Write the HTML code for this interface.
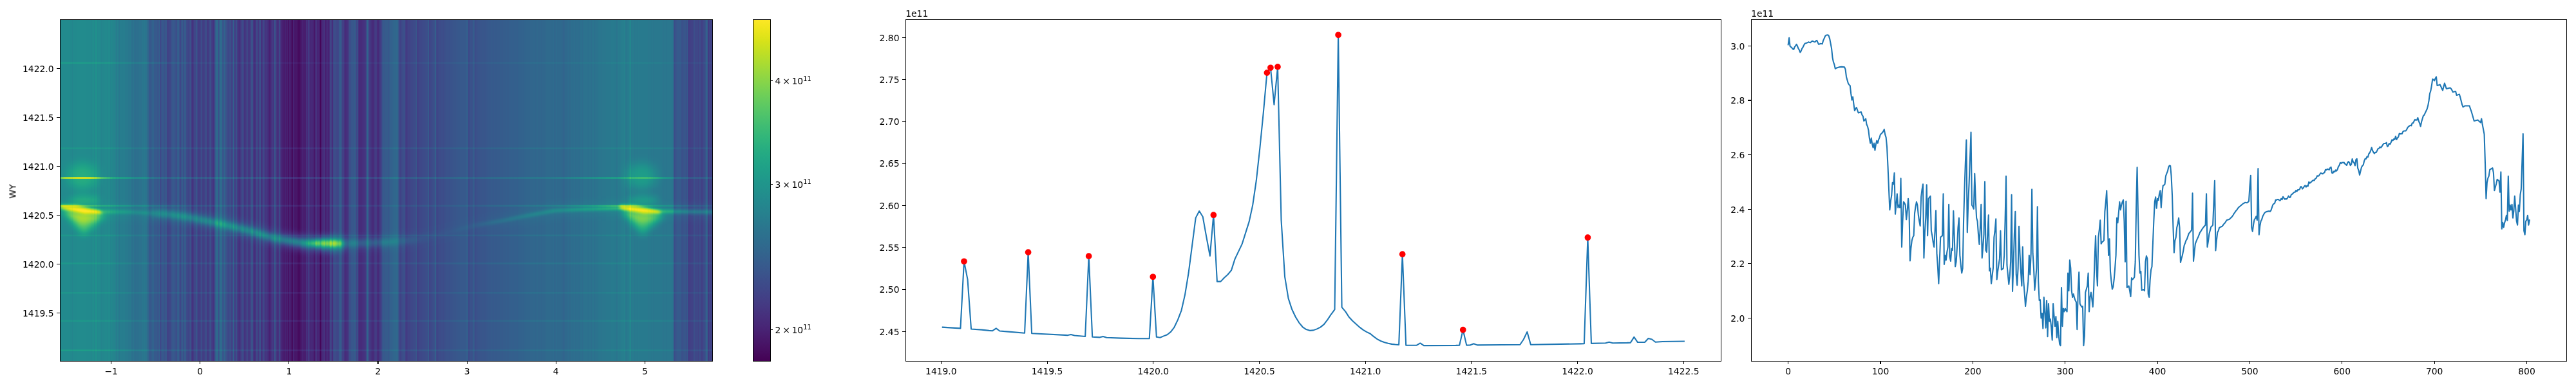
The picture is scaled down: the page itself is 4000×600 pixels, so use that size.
<!DOCTYPE html>
<html lang="en"><head><meta charset="utf-8"><title>figure</title>
<style>html,body{margin:0;padding:0;background:#fff;}g[id^="patch_"] path,g[id^="xtick_"] use,g[id^="ytick_"] use{shape-rendering:crispEdges;}body{width:4000px;height:600px;overflow:hidden;}svg{display:block;}</style>
</head><body>
<svg width="4000" height="600" viewBox="0 0 2880 432">
 <defs>
  <style type="text/css">*{stroke-linejoin: round; stroke-linecap: butt}</style>
 </defs>
 <g id="figure_1">
  <g id="patch_1">
   <path d="M 0 432 
L 2880 432 
L 2880 0 
L 0 0 
z
" style="fill: #ffffff"/>
  </g>
  <g id="axes_1">
   <g id="HMBG">
    <path d="M 67.16 404.12 
L 796.497225 404.12 
L 796.497225 21.72 
L 67.16 21.72 
z
" style="fill: #ffffff"/>
   </g>
<g transform="scale(0.72)"><defs>
<filter id="vir" x="0" y="0" width="100%" height="100%" color-interpolation-filters="sRGB"><feComponentTransfer><feFuncR type="table" tableValues="0.2670 0.2726 0.2770 0.2803 0.2823 0.2832 0.2829 0.2814 0.2788 0.2752 0.2706 0.2651 0.2590 0.2522 0.2450 0.2374 0.2278 0.2201 0.2124 0.2049 0.1976 0.1906 0.1839 0.1774 0.1712 0.1651 0.1592 0.1534 0.1476 0.1419 0.1364 0.1312 0.1254 0.1218 0.1197 0.1197 0.1223 0.1281 0.1373 0.1501 0.1664 0.1858 0.2080 0.2328 0.2599 0.2889 0.3198 0.3524 0.3952 0.4310 0.4681 0.5063 0.5455 0.5857 0.6266 0.6681 0.7099 0.7519 0.7938 0.8353 0.8762 0.9162 0.9553 0.9932"/><feFuncG type="table" tableValues="0.0049 0.0256 0.0503 0.0734 0.0950 0.1157 0.1359 0.1558 0.1755 0.1949 0.2141 0.2330 0.2515 0.2698 0.2877 0.3052 0.3266 0.3433 0.3597 0.3757 0.3915 0.4071 0.4224 0.4375 0.4525 0.4674 0.4822 0.4970 0.5117 0.5265 0.5412 0.5559 0.5743 0.5891 0.6038 0.6185 0.6332 0.6477 0.6623 0.6766 0.6909 0.7049 0.7187 0.7322 0.7455 0.7584 0.7709 0.7830 0.7975 0.8085 0.8189 0.8288 0.8380 0.8467 0.8546 0.8620 0.8688 0.8750 0.8807 0.8860 0.8911 0.8961 0.9011 0.9062"/><feFuncB type="table" tableValues="0.3294 0.3531 0.3757 0.3972 0.4173 0.4361 0.4534 0.4692 0.4834 0.4960 0.5071 0.5166 0.5247 0.5316 0.5373 0.5419 0.5465 0.5494 0.5517 0.5535 0.5550 0.5561 0.5569 0.5576 0.5580 0.5581 0.5581 0.5577 0.5570 0.5560 0.5545 0.5525 0.5491 0.5456 0.5414 0.5363 0.5304 0.5235 0.5156 0.5066 0.4965 0.4853 0.4729 0.4593 0.4445 0.4284 0.4112 0.3926 0.3678 0.3465 0.3240 0.3004 0.2756 0.2499 0.2234 0.1963 0.1693 0.1432 0.1200 0.1026 0.0953 0.1007 0.1181 0.1439"/></feComponentTransfer></filter>
<clipPath id="hmclip"><rect x="93.278" y="30.167" width="1012.968" height="531.111"/></clipPath>
<filter id="bl2" x="-20%" y="-100%" width="140%" height="300%"><feGaussianBlur stdDeviation="2.0"/></filter>
<filter id="bl3" x="-5%" y="-50%" width="110%" height="200%"><feGaussianBlur stdDeviation="3"/></filter>
<filter id="bl5" x="-50%" y="-50%" width="200%" height="200%"><feGaussianBlur stdDeviation="5.5"/></filter>
<filter id="bl8" x="-50%" y="-50%" width="200%" height="200%"><feGaussianBlur stdDeviation="8"/></filter>
<linearGradient id="rg" gradientUnits="userSpaceOnUse" x1="93.3" y1="0" x2="1106.2" y2="0"><stop offset="-0.0003" stop-color="#fff" stop-opacity="0.000"/><stop offset="0.1330" stop-color="#fff" stop-opacity="0.000"/><stop offset="0.1498" stop-color="#fff" stop-opacity="0.180"/><stop offset="0.2041" stop-color="#fff" stop-opacity="0.220"/><stop offset="0.3324" stop-color="#fff" stop-opacity="0.280"/><stop offset="0.3689" stop-color="#fff" stop-opacity="0.330"/><stop offset="0.3837" stop-color="#fff" stop-opacity="0.450"/><stop offset="0.3916" stop-color="#fff" stop-opacity="0.580"/><stop offset="0.4163" stop-color="#fff" stop-opacity="0.580"/><stop offset="0.4242" stop-color="#fff" stop-opacity="0.450"/><stop offset="0.4321" stop-color="#fff" stop-opacity="0.360"/><stop offset="0.4361" stop-color="#fff" stop-opacity="0.130"/><stop offset="0.5002" stop-color="#fff" stop-opacity="0.120"/><stop offset="0.5249" stop-color="#fff" stop-opacity="0.080"/><stop offset="0.5595" stop-color="#fff" stop-opacity="0.020"/><stop offset="0.5990" stop-color="#fff" stop-opacity="0.000"/><stop offset="0.9998" stop-color="#fff" stop-opacity="0.000"/></linearGradient>
<linearGradient id="rn" gradientUnits="userSpaceOnUse" x1="93.3" y1="0" x2="1106.2" y2="0"><stop offset="-0.0003" stop-color="#fff" stop-opacity="0.140"/><stop offset="0.0560" stop-color="#fff" stop-opacity="0.160"/><stop offset="0.0708" stop-color="#fff" stop-opacity="0.180"/><stop offset="0.1054" stop-color="#fff" stop-opacity="0.140"/><stop offset="0.1330" stop-color="#fff" stop-opacity="0.120"/><stop offset="0.1498" stop-color="#fff" stop-opacity="0.000"/><stop offset="0.5595" stop-color="#fff" stop-opacity="0.000"/><stop offset="0.5990" stop-color="#fff" stop-opacity="0.020"/><stop offset="0.6286" stop-color="#fff" stop-opacity="0.040"/><stop offset="0.6582" stop-color="#fff" stop-opacity="0.080"/><stop offset="0.7174" stop-color="#fff" stop-opacity="0.130"/><stop offset="0.7569" stop-color="#fff" stop-opacity="0.170"/><stop offset="0.8161" stop-color="#fff" stop-opacity="0.240"/><stop offset="0.8556" stop-color="#fff" stop-opacity="0.300"/><stop offset="0.9247" stop-color="#fff" stop-opacity="0.300"/><stop offset="0.9543" stop-color="#fff" stop-opacity="0.240"/><stop offset="0.9998" stop-color="#fff" stop-opacity="0.220"/></linearGradient>
<linearGradient id="rw" gradientUnits="userSpaceOnUse" x1="93.3" y1="0" x2="1106.2" y2="0"><stop offset="-0.0003" stop-color="#fff" stop-opacity="0.030"/><stop offset="0.1330" stop-color="#fff" stop-opacity="0.030"/><stop offset="0.1498" stop-color="#fff" stop-opacity="0.080"/><stop offset="0.3324" stop-color="#fff" stop-opacity="0.100"/><stop offset="0.3778" stop-color="#fff" stop-opacity="0.200"/><stop offset="0.4311" stop-color="#fff" stop-opacity="0.200"/><stop offset="0.4371" stop-color="#fff" stop-opacity="0.070"/><stop offset="0.5002" stop-color="#fff" stop-opacity="0.050"/><stop offset="0.5545" stop-color="#fff" stop-opacity="0.010"/><stop offset="0.6286" stop-color="#fff" stop-opacity="0.010"/><stop offset="0.7569" stop-color="#fff" stop-opacity="0.030"/><stop offset="0.9998" stop-color="#fff" stop-opacity="0.040"/></linearGradient>
<linearGradient id="lg0" gradientUnits="userSpaceOnUse" x1="93.3" y1="0" x2="1106.2" y2="0"><stop offset="-0.0003" stop-color="#fff" stop-opacity="0.070"/><stop offset="0.1547" stop-color="#fff" stop-opacity="0.060"/><stop offset="0.2041" stop-color="#fff" stop-opacity="0.030"/><stop offset="0.9998" stop-color="#fff" stop-opacity="0.025"/></linearGradient>
<linearGradient id="lg1" gradientUnits="userSpaceOnUse" x1="93.3" y1="0" x2="1106.2" y2="0"><stop offset="-0.0003" stop-color="#fff" stop-opacity="0.050"/><stop offset="0.1547" stop-color="#fff" stop-opacity="0.050"/><stop offset="0.9998" stop-color="#fff" stop-opacity="0.040"/></linearGradient>
<linearGradient id="lg2" gradientUnits="userSpaceOnUse" x1="93.3" y1="0" x2="1106.2" y2="0"><stop offset="-0.0003" stop-color="#fff" stop-opacity="0.300"/><stop offset="0.0066" stop-color="#fff" stop-opacity="0.420"/><stop offset="0.0461" stop-color="#fff" stop-opacity="0.420"/><stop offset="0.0807" stop-color="#fff" stop-opacity="0.180"/><stop offset="0.1547" stop-color="#fff" stop-opacity="0.100"/><stop offset="0.7470" stop-color="#fff" stop-opacity="0.080"/><stop offset="0.8211" stop-color="#fff" stop-opacity="0.160"/><stop offset="0.9149" stop-color="#fff" stop-opacity="0.200"/><stop offset="0.9445" stop-color="#fff" stop-opacity="0.100"/><stop offset="0.9998" stop-color="#fff" stop-opacity="0.080"/></linearGradient>
<linearGradient id="lg3" gradientUnits="userSpaceOnUse" x1="93.3" y1="0" x2="1106.2" y2="0"><stop offset="-0.0003" stop-color="#fff" stop-opacity="0.200"/><stop offset="0.0708" stop-color="#fff" stop-opacity="0.120"/><stop offset="0.2041" stop-color="#fff" stop-opacity="0.060"/><stop offset="0.5990" stop-color="#fff" stop-opacity="0.040"/><stop offset="0.7569" stop-color="#fff" stop-opacity="0.080"/><stop offset="0.8556" stop-color="#fff" stop-opacity="0.200"/><stop offset="0.9247" stop-color="#fff" stop-opacity="0.100"/><stop offset="0.9998" stop-color="#fff" stop-opacity="0.050"/></linearGradient>
<linearGradient id="lg4" gradientUnits="userSpaceOnUse" x1="93.3" y1="0" x2="1106.2" y2="0"><stop offset="-0.0003" stop-color="#fff" stop-opacity="0.050"/><stop offset="0.9998" stop-color="#fff" stop-opacity="0.040"/></linearGradient>
<linearGradient id="lg5" gradientUnits="userSpaceOnUse" x1="93.3" y1="0" x2="1106.2" y2="0"><stop offset="-0.0003" stop-color="#fff" stop-opacity="0.050"/><stop offset="0.9998" stop-color="#fff" stop-opacity="0.040"/></linearGradient>
<linearGradient id="lg6" gradientUnits="userSpaceOnUse" x1="93.3" y1="0" x2="1106.2" y2="0"><stop offset="-0.0003" stop-color="#fff" stop-opacity="0.045"/><stop offset="0.9998" stop-color="#fff" stop-opacity="0.035"/></linearGradient>
<linearGradient id="lg7" gradientUnits="userSpaceOnUse" x1="93.3" y1="0" x2="1106.2" y2="0"><stop offset="-0.0003" stop-color="#fff" stop-opacity="0.050"/><stop offset="0.9998" stop-color="#fff" stop-opacity="0.040"/></linearGradient>
<linearGradient id="lg8" gradientUnits="userSpaceOnUse" x1="93.3" y1="0" x2="1106.2" y2="0"><stop offset="-0.0003" stop-color="#fff" stop-opacity="0.080"/><stop offset="0.1054" stop-color="#fff" stop-opacity="0.070"/><stop offset="0.2041" stop-color="#fff" stop-opacity="0.050"/><stop offset="0.9998" stop-color="#fff" stop-opacity="0.040"/></linearGradient>
</defs>
<g clip-path="url(#hmclip)"><g filter="url(#vir)">
<rect x="93.28" y="30.17" width="1012.97" height="531.11" fill="#484848"/>
<rect x="93.28" y="30.17" width="1.56" height="531.11" fill="#7a7a7a"/>
<rect x="94.54" y="30.17" width="1.56" height="531.11" fill="#7b7b7b"/>
<rect x="95.80" y="30.17" width="14.18" height="531.11" fill="#7a7a7a"/>
<rect x="109.68" y="30.17" width="2.82" height="531.11" fill="#797979"/>
<rect x="112.20" y="30.17" width="7.87" height="531.11" fill="#7a7a7a"/>
<rect x="119.77" y="30.17" width="15.44" height="531.11" fill="#7b7b7b"/>
<rect x="134.91" y="30.17" width="6.61" height="531.11" fill="#7a7a7a"/>
<rect x="141.21" y="30.17" width="4.08" height="531.11" fill="#7b7b7b"/>
<rect x="145.00" y="30.17" width="1.56" height="531.11" fill="#7e7e7e"/>
<rect x="146.26" y="30.17" width="1.56" height="531.11" fill="#7f7f7f"/>
<rect x="147.52" y="30.17" width="2.82" height="531.11" fill="#808080"/>
<rect x="150.04" y="30.17" width="1.56" height="531.11" fill="#7f7f7f"/>
<rect x="151.31" y="30.17" width="1.56" height="531.11" fill="#7e7e7e"/>
<rect x="152.57" y="30.17" width="1.56" height="531.11" fill="#7d7d7d"/>
<rect x="153.83" y="30.17" width="1.56" height="531.11" fill="#7a7a7a"/>
<rect x="155.09" y="30.17" width="2.82" height="531.11" fill="#797979"/>
<rect x="157.61" y="30.17" width="1.56" height="531.11" fill="#777777"/>
<rect x="158.87" y="30.17" width="2.82" height="531.11" fill="#787878"/>
<rect x="161.40" y="30.17" width="5.35" height="531.11" fill="#797979"/>
<rect x="166.44" y="30.17" width="5.35" height="531.11" fill="#7a7a7a"/>
<rect x="171.49" y="30.17" width="1.56" height="531.11" fill="#797979"/>
<rect x="172.75" y="30.17" width="1.56" height="531.11" fill="#777777"/>
<rect x="174.01" y="30.17" width="1.56" height="531.11" fill="#767676"/>
<rect x="175.27" y="30.17" width="2.82" height="531.11" fill="#757575"/>
<rect x="177.80" y="30.17" width="1.56" height="531.11" fill="#747474"/>
<rect x="179.06" y="30.17" width="1.56" height="531.11" fill="#727272"/>
<rect x="180.32" y="30.17" width="1.56" height="531.11" fill="#6f6f6f"/>
<rect x="181.58" y="30.17" width="1.56" height="531.11" fill="#717171"/>
<rect x="182.84" y="30.17" width="1.56" height="531.11" fill="#6e6e6e"/>
<rect x="184.10" y="30.17" width="1.56" height="531.11" fill="#6c6c6c"/>
<rect x="185.37" y="30.17" width="1.56" height="531.11" fill="#6d6d6d"/>
<rect x="186.63" y="30.17" width="1.56" height="531.11" fill="#6e6e6e"/>
<rect x="187.89" y="30.17" width="1.56" height="531.11" fill="#6d6d6d"/>
<rect x="189.15" y="30.17" width="5.35" height="531.11" fill="#6c6c6c"/>
<rect x="194.20" y="30.17" width="2.82" height="531.11" fill="#6b6b6b"/>
<rect x="196.72" y="30.17" width="2.82" height="531.11" fill="#696969"/>
<rect x="199.24" y="30.17" width="1.56" height="531.11" fill="#6a6a6a"/>
<rect x="200.50" y="30.17" width="2.82" height="531.11" fill="#676767"/>
<rect x="203.03" y="30.17" width="1.56" height="531.11" fill="#656565"/>
<rect x="204.29" y="30.17" width="1.56" height="531.11" fill="#626262"/>
<rect x="205.55" y="30.17" width="1.56" height="531.11" fill="#606060"/>
<rect x="206.81" y="30.17" width="1.56" height="531.11" fill="#626262"/>
<rect x="208.07" y="30.17" width="1.56" height="531.11" fill="#606060"/>
<rect x="209.33" y="30.17" width="1.56" height="531.11" fill="#5e5e5e"/>
<rect x="210.60" y="30.17" width="1.56" height="531.11" fill="#606060"/>
<rect x="211.86" y="30.17" width="1.56" height="531.11" fill="#5d5d5d"/>
<rect x="213.12" y="30.17" width="1.56" height="531.11" fill="#606060"/>
<rect x="214.38" y="30.17" width="1.56" height="531.11" fill="#616161"/>
<rect x="215.64" y="30.17" width="1.56" height="531.11" fill="#606060"/>
<rect x="216.90" y="30.17" width="1.56" height="531.11" fill="#616161"/>
<rect x="218.16" y="30.17" width="1.56" height="531.11" fill="#626262"/>
<rect x="219.43" y="30.17" width="4.08" height="531.11" fill="#646464"/>
<rect x="223.21" y="30.17" width="2.82" height="531.11" fill="#656565"/>
<rect x="225.73" y="30.17" width="1.56" height="531.11" fill="#636363"/>
<rect x="226.99" y="30.17" width="1.56" height="531.11" fill="#626262"/>
<rect x="228.26" y="30.17" width="1.56" height="531.11" fill="#5e5e5e"/>
<rect x="229.52" y="30.17" width="1.56" height="531.11" fill="#575757"/>
<rect x="230.78" y="30.17" width="1.56" height="531.11" fill="#4d4d4d"/>
<rect x="232.04" y="30.17" width="1.56" height="531.11" fill="#444444"/>
<rect x="233.30" y="30.17" width="1.56" height="531.11" fill="#484848"/>
<rect x="234.56" y="30.17" width="1.56" height="531.11" fill="#4a4a4a"/>
<rect x="235.83" y="30.17" width="1.56" height="531.11" fill="#505050"/>
<rect x="237.09" y="30.17" width="1.56" height="531.11" fill="#4f4f4f"/>
<rect x="238.35" y="30.17" width="1.56" height="531.11" fill="#545454"/>
<rect x="239.61" y="30.17" width="1.56" height="531.11" fill="#424242"/>
<rect x="240.87" y="30.17" width="1.56" height="531.11" fill="#474747"/>
<rect x="242.13" y="30.17" width="1.56" height="531.11" fill="#4b4b4b"/>
<rect x="243.39" y="30.17" width="1.56" height="531.11" fill="#454545"/>
<rect x="244.66" y="30.17" width="1.56" height="531.11" fill="#464646"/>
<rect x="245.92" y="30.17" width="1.56" height="531.11" fill="#454545"/>
<rect x="247.18" y="30.17" width="1.56" height="531.11" fill="#525252"/>
<rect x="248.44" y="30.17" width="1.56" height="531.11" fill="#333333"/>
<rect x="249.70" y="30.17" width="1.56" height="531.11" fill="#3f3f3f"/>
<rect x="250.96" y="30.17" width="1.56" height="531.11" fill="#484848"/>
<rect x="252.22" y="30.17" width="1.56" height="531.11" fill="#474747"/>
<rect x="253.49" y="30.17" width="1.56" height="531.11" fill="#464646"/>
<rect x="254.75" y="30.17" width="1.56" height="531.11" fill="#404040"/>
<rect x="256.01" y="30.17" width="1.56" height="531.11" fill="#444444"/>
<rect x="257.27" y="30.17" width="1.56" height="531.11" fill="#494949"/>
<rect x="258.53" y="30.17" width="1.56" height="531.11" fill="#434343"/>
<rect x="259.79" y="30.17" width="1.56" height="531.11" fill="#2d2d2d"/>
<rect x="261.05" y="30.17" width="1.56" height="531.11" fill="#333333"/>
<rect x="262.32" y="30.17" width="1.56" height="531.11" fill="#363636"/>
<rect x="263.58" y="30.17" width="1.56" height="531.11" fill="#383838"/>
<rect x="264.84" y="30.17" width="1.56" height="531.11" fill="#393939"/>
<rect x="266.10" y="30.17" width="1.56" height="531.11" fill="#434343"/>
<rect x="267.36" y="30.17" width="1.56" height="531.11" fill="#464646"/>
<rect x="268.62" y="30.17" width="1.56" height="531.11" fill="#484848"/>
<rect x="269.88" y="30.17" width="1.56" height="531.11" fill="#464646"/>
<rect x="271.15" y="30.17" width="1.56" height="531.11" fill="#424242"/>
<rect x="272.41" y="30.17" width="1.56" height="531.11" fill="#3f3f3f"/>
<rect x="273.67" y="30.17" width="1.56" height="531.11" fill="#3d3d3d"/>
<rect x="274.93" y="30.17" width="1.56" height="531.11" fill="#4a4a4a"/>
<rect x="276.19" y="30.17" width="1.56" height="531.11" fill="#4d4d4d"/>
<rect x="277.45" y="30.17" width="1.56" height="531.11" fill="#4f4f4f"/>
<rect x="278.72" y="30.17" width="1.56" height="531.11" fill="#2e2e2e"/>
<rect x="279.98" y="30.17" width="1.56" height="531.11" fill="#3a3a3a"/>
<rect x="281.24" y="30.17" width="1.56" height="531.11" fill="#414141"/>
<rect x="282.50" y="30.17" width="1.56" height="531.11" fill="#4f4f4f"/>
<rect x="283.76" y="30.17" width="1.56" height="531.11" fill="#393939"/>
<rect x="285.02" y="30.17" width="1.56" height="531.11" fill="#494949"/>
<rect x="286.28" y="30.17" width="2.82" height="531.11" fill="#4a4a4a"/>
<rect x="288.81" y="30.17" width="1.56" height="531.11" fill="#3b3b3b"/>
<rect x="290.07" y="30.17" width="1.56" height="531.11" fill="#393939"/>
<rect x="291.33" y="30.17" width="1.56" height="531.11" fill="#363636"/>
<rect x="292.59" y="30.17" width="1.56" height="531.11" fill="#333333"/>
<rect x="293.85" y="30.17" width="1.56" height="531.11" fill="#3b3b3b"/>
<rect x="295.11" y="30.17" width="1.56" height="531.11" fill="#444444"/>
<rect x="296.38" y="30.17" width="1.56" height="531.11" fill="#303030"/>
<rect x="297.64" y="30.17" width="1.56" height="531.11" fill="#2a2a2a"/>
<rect x="298.90" y="30.17" width="1.56" height="531.11" fill="#222222"/>
<rect x="300.16" y="30.17" width="1.56" height="531.11" fill="#2d2d2d"/>
<rect x="301.42" y="30.17" width="2.82" height="531.11" fill="#383838"/>
<rect x="303.94" y="30.17" width="1.56" height="531.11" fill="#393939"/>
<rect x="305.21" y="30.17" width="1.56" height="531.11" fill="#4b4b4b"/>
<rect x="306.47" y="30.17" width="1.56" height="531.11" fill="#2b2b2b"/>
<rect x="307.73" y="30.17" width="1.56" height="531.11" fill="#2f2f2f"/>
<rect x="308.99" y="30.17" width="1.56" height="531.11" fill="#2d2d2d"/>
<rect x="310.25" y="30.17" width="1.56" height="531.11" fill="#313131"/>
<rect x="311.51" y="30.17" width="1.56" height="531.11" fill="#333333"/>
<rect x="312.78" y="30.17" width="1.56" height="531.11" fill="#474747"/>
<rect x="314.04" y="30.17" width="1.56" height="531.11" fill="#2f2f2f"/>
<rect x="315.30" y="30.17" width="1.56" height="531.11" fill="#2d2d2d"/>
<rect x="316.56" y="30.17" width="1.56" height="531.11" fill="#333333"/>
<rect x="317.82" y="30.17" width="1.56" height="531.11" fill="#323232"/>
<rect x="319.08" y="30.17" width="1.56" height="531.11" fill="#444444"/>
<rect x="320.34" y="30.17" width="1.56" height="531.11" fill="#383838"/>
<rect x="321.61" y="30.17" width="1.56" height="531.11" fill="#2a2a2a"/>
<rect x="322.87" y="30.17" width="1.56" height="531.11" fill="#2c2c2c"/>
<rect x="324.13" y="30.17" width="1.56" height="531.11" fill="#333333"/>
<rect x="325.39" y="30.17" width="1.56" height="531.11" fill="#3c3c3c"/>
<rect x="326.65" y="30.17" width="1.56" height="531.11" fill="#414141"/>
<rect x="327.91" y="30.17" width="1.56" height="531.11" fill="#2f2f2f"/>
<rect x="329.17" y="30.17" width="1.56" height="531.11" fill="#2b2b2b"/>
<rect x="330.44" y="30.17" width="1.56" height="531.11" fill="#272727"/>
<rect x="331.70" y="30.17" width="1.56" height="531.11" fill="#292929"/>
<rect x="332.96" y="30.17" width="1.56" height="531.11" fill="#3f3f3f"/>
<rect x="334.22" y="30.17" width="1.56" height="531.11" fill="#4d4d4d"/>
<rect x="335.48" y="30.17" width="1.56" height="531.11" fill="#585858"/>
<rect x="336.74" y="30.17" width="1.56" height="531.11" fill="#616161"/>
<rect x="338.00" y="30.17" width="1.56" height="531.11" fill="#3a3a3a"/>
<rect x="339.27" y="30.17" width="1.56" height="531.11" fill="#474747"/>
<rect x="340.53" y="30.17" width="1.56" height="531.11" fill="#505050"/>
<rect x="341.79" y="30.17" width="1.56" height="531.11" fill="#5b5b5b"/>
<rect x="343.05" y="30.17" width="1.56" height="531.11" fill="#646464"/>
<rect x="344.31" y="30.17" width="2.82" height="531.11" fill="#464646"/>
<rect x="346.84" y="30.17" width="1.56" height="531.11" fill="#454545"/>
<rect x="348.10" y="30.17" width="1.56" height="531.11" fill="#545454"/>
<rect x="349.36" y="30.17" width="1.56" height="531.11" fill="#494949"/>
<rect x="350.62" y="30.17" width="1.56" height="531.11" fill="#414141"/>
<rect x="351.88" y="30.17" width="1.56" height="531.11" fill="#3f3f3f"/>
<rect x="353.14" y="30.17" width="1.56" height="531.11" fill="#393939"/>
<rect x="354.40" y="30.17" width="1.56" height="531.11" fill="#353535"/>
<rect x="355.67" y="30.17" width="1.56" height="531.11" fill="#3c3c3c"/>
<rect x="356.93" y="30.17" width="1.56" height="531.11" fill="#474747"/>
<rect x="358.19" y="30.17" width="1.56" height="531.11" fill="#2e2e2e"/>
<rect x="359.45" y="30.17" width="1.56" height="531.11" fill="#333333"/>
<rect x="360.71" y="30.17" width="1.56" height="531.11" fill="#393939"/>
<rect x="361.97" y="30.17" width="1.56" height="531.11" fill="#505050"/>
<rect x="363.23" y="30.17" width="1.56" height="531.11" fill="#323232"/>
<rect x="364.50" y="30.17" width="1.56" height="531.11" fill="#313131"/>
<rect x="365.76" y="30.17" width="1.56" height="531.11" fill="#393939"/>
<rect x="367.02" y="30.17" width="1.56" height="531.11" fill="#424242"/>
<rect x="368.28" y="30.17" width="1.56" height="531.11" fill="#282828"/>
<rect x="369.54" y="30.17" width="1.56" height="531.11" fill="#292929"/>
<rect x="370.80" y="30.17" width="1.56" height="531.11" fill="#222222"/>
<rect x="372.06" y="30.17" width="1.56" height="531.11" fill="#262626"/>
<rect x="373.33" y="30.17" width="1.56" height="531.11" fill="#292929"/>
<rect x="374.59" y="30.17" width="1.56" height="531.11" fill="#383838"/>
<rect x="375.85" y="30.17" width="1.56" height="531.11" fill="#3b3b3b"/>
<rect x="377.11" y="30.17" width="1.56" height="531.11" fill="#404040"/>
<rect x="378.37" y="30.17" width="1.56" height="531.11" fill="#242424"/>
<rect x="379.63" y="30.17" width="1.56" height="531.11" fill="#282828"/>
<rect x="380.90" y="30.17" width="1.56" height="531.11" fill="#2b2b2b"/>
<rect x="382.16" y="30.17" width="1.56" height="531.11" fill="#2e2e2e"/>
<rect x="383.42" y="30.17" width="1.56" height="531.11" fill="#3b3b3b"/>
<rect x="384.68" y="30.17" width="4.08" height="531.11" fill="#292929"/>
<rect x="388.46" y="30.17" width="1.56" height="531.11" fill="#2f2f2f"/>
<rect x="389.73" y="30.17" width="1.56" height="531.11" fill="#3f3f3f"/>
<rect x="390.99" y="30.17" width="1.56" height="531.11" fill="#535353"/>
<rect x="392.25" y="30.17" width="1.56" height="531.11" fill="#2b2b2b"/>
<rect x="393.51" y="30.17" width="1.56" height="531.11" fill="#262626"/>
<rect x="394.77" y="30.17" width="1.56" height="531.11" fill="#212121"/>
<rect x="396.03" y="30.17" width="1.56" height="531.11" fill="#262626"/>
<rect x="397.29" y="30.17" width="1.56" height="531.11" fill="#2c2c2c"/>
<rect x="398.56" y="30.17" width="1.56" height="531.11" fill="#4b4b4b"/>
<rect x="399.82" y="30.17" width="1.56" height="531.11" fill="#1e1e1e"/>
<rect x="401.08" y="30.17" width="1.56" height="531.11" fill="#2b2b2b"/>
<rect x="402.34" y="30.17" width="1.56" height="531.11" fill="#393939"/>
<rect x="403.60" y="30.17" width="1.56" height="531.11" fill="#434343"/>
<rect x="404.86" y="30.17" width="1.56" height="531.11" fill="#262626"/>
<rect x="406.12" y="30.17" width="1.56" height="531.11" fill="#212121"/>
<rect x="407.39" y="30.17" width="1.56" height="531.11" fill="#292929"/>
<rect x="408.65" y="30.17" width="1.56" height="531.11" fill="#3d3d3d"/>
<rect x="409.91" y="30.17" width="1.56" height="531.11" fill="#303030"/>
<rect x="411.17" y="30.17" width="1.56" height="531.11" fill="#282828"/>
<rect x="412.43" y="30.17" width="1.56" height="531.11" fill="#212121"/>
<rect x="413.69" y="30.17" width="1.56" height="531.11" fill="#333333"/>
<rect x="414.96" y="30.17" width="1.56" height="531.11" fill="#232323"/>
<rect x="416.22" y="30.17" width="1.56" height="531.11" fill="#1d1d1d"/>
<rect x="417.48" y="30.17" width="1.56" height="531.11" fill="#161616"/>
<rect x="418.74" y="30.17" width="1.56" height="531.11" fill="#1b1b1b"/>
<rect x="420.00" y="30.17" width="1.56" height="531.11" fill="#1e1e1e"/>
<rect x="421.26" y="30.17" width="1.56" height="531.11" fill="#232323"/>
<rect x="422.52" y="30.17" width="1.56" height="531.11" fill="#2f2f2f"/>
<rect x="423.79" y="30.17" width="1.56" height="531.11" fill="#262626"/>
<rect x="425.05" y="30.17" width="1.56" height="531.11" fill="#303030"/>
<rect x="426.31" y="30.17" width="1.56" height="531.11" fill="#4d4d4d"/>
<rect x="427.57" y="30.17" width="1.56" height="531.11" fill="#303030"/>
<rect x="428.83" y="30.17" width="1.56" height="531.11" fill="#292929"/>
<rect x="430.09" y="30.17" width="1.56" height="531.11" fill="#1f1f1f"/>
<rect x="431.35" y="30.17" width="1.56" height="531.11" fill="#232323"/>
<rect x="432.62" y="30.17" width="1.56" height="531.11" fill="#292929"/>
<rect x="433.88" y="30.17" width="1.56" height="531.11" fill="#464646"/>
<rect x="435.14" y="30.17" width="1.56" height="531.11" fill="#232323"/>
<rect x="436.40" y="30.17" width="1.56" height="531.11" fill="#191919"/>
<rect x="437.66" y="30.17" width="1.56" height="531.11" fill="#1a1a1a"/>
<rect x="438.92" y="30.17" width="1.56" height="531.11" fill="#101010"/>
<rect x="440.18" y="30.17" width="1.56" height="531.11" fill="#131313"/>
<rect x="441.45" y="30.17" width="1.56" height="531.11" fill="#0b0b0b"/>
<rect x="442.71" y="30.17" width="1.56" height="531.11" fill="#1b1b1b"/>
<rect x="443.97" y="30.17" width="1.56" height="531.11" fill="#131313"/>
<rect x="445.23" y="30.17" width="1.56" height="531.11" fill="#0b0b0b"/>
<rect x="446.49" y="30.17" width="1.56" height="531.11" fill="#191919"/>
<rect x="447.75" y="30.17" width="1.56" height="531.11" fill="#060606"/>
<rect x="449.02" y="30.17" width="1.56" height="531.11" fill="#181818"/>
<rect x="450.28" y="30.17" width="1.56" height="531.11" fill="#0f0f0f"/>
<rect x="451.54" y="30.17" width="1.56" height="531.11" fill="#101010"/>
<rect x="452.80" y="30.17" width="1.56" height="531.11" fill="#0b0b0b"/>
<rect x="454.06" y="30.17" width="1.56" height="531.11" fill="#040404"/>
<rect x="455.32" y="30.17" width="1.56" height="531.11" fill="#181818"/>
<rect x="456.58" y="30.17" width="1.56" height="531.11" fill="#111111"/>
<rect x="457.85" y="30.17" width="1.56" height="531.11" fill="#0c0c0c"/>
<rect x="459.11" y="30.17" width="1.56" height="531.11" fill="#111111"/>
<rect x="460.37" y="30.17" width="1.56" height="531.11" fill="#060606"/>
<rect x="461.63" y="30.17" width="1.56" height="531.11" fill="#0f0f0f"/>
<rect x="462.89" y="30.17" width="1.56" height="531.11" fill="#070707"/>
<rect x="464.15" y="30.17" width="1.56" height="531.11" fill="#020202"/>
<rect x="465.41" y="30.17" width="1.56" height="531.11" fill="#010101"/>
<rect x="466.68" y="30.17" width="1.56" height="531.11" fill="#202020"/>
<rect x="467.94" y="30.17" width="1.56" height="531.11" fill="#0c0c0c"/>
<rect x="469.20" y="30.17" width="1.56" height="531.11" fill="#151515"/>
<rect x="470.46" y="30.17" width="1.56" height="531.11" fill="#141414"/>
<rect x="471.72" y="30.17" width="1.56" height="531.11" fill="#151515"/>
<rect x="472.98" y="30.17" width="2.82" height="531.11" fill="#141414"/>
<rect x="475.51" y="30.17" width="1.56" height="531.11" fill="#272727"/>
<rect x="476.77" y="30.17" width="1.56" height="531.11" fill="#1e1e1e"/>
<rect x="478.03" y="30.17" width="1.56" height="531.11" fill="#2d2d2d"/>
<rect x="479.29" y="30.17" width="1.56" height="531.11" fill="#292929"/>
<rect x="480.55" y="30.17" width="1.56" height="531.11" fill="#1e1e1e"/>
<rect x="481.81" y="30.17" width="1.56" height="531.11" fill="#1b1b1b"/>
<rect x="483.08" y="30.17" width="1.56" height="531.11" fill="#1d1d1d"/>
<rect x="484.34" y="30.17" width="1.56" height="531.11" fill="#1b1b1b"/>
<rect x="485.60" y="30.17" width="2.82" height="531.11" fill="#191919"/>
<rect x="488.12" y="30.17" width="1.56" height="531.11" fill="#0a0a0a"/>
<rect x="489.38" y="30.17" width="1.56" height="531.11" fill="#1e1e1e"/>
<rect x="490.64" y="30.17" width="1.56" height="531.11" fill="#272727"/>
<rect x="491.91" y="30.17" width="1.56" height="531.11" fill="#181818"/>
<rect x="493.17" y="30.17" width="1.56" height="531.11" fill="#171717"/>
<rect x="494.43" y="30.17" width="2.82" height="531.11" fill="#161616"/>
<rect x="496.95" y="30.17" width="1.56" height="531.11" fill="#010101"/>
<rect x="498.21" y="30.17" width="1.56" height="531.11" fill="#070707"/>
<rect x="499.47" y="30.17" width="1.56" height="531.11" fill="#1d1d1d"/>
<rect x="500.74" y="30.17" width="1.56" height="531.11" fill="#1f1f1f"/>
<rect x="502.00" y="30.17" width="1.56" height="531.11" fill="#212121"/>
<rect x="503.26" y="30.17" width="1.56" height="531.11" fill="#272727"/>
<rect x="504.52" y="30.17" width="1.56" height="531.11" fill="#141414"/>
<rect x="505.78" y="30.17" width="1.56" height="531.11" fill="#1b1b1b"/>
<rect x="507.04" y="30.17" width="1.56" height="531.11" fill="#1d1d1d"/>
<rect x="508.30" y="30.17" width="1.56" height="531.11" fill="#1a1a1a"/>
<rect x="509.57" y="30.17" width="1.56" height="531.11" fill="#161616"/>
<rect x="510.83" y="30.17" width="1.56" height="531.11" fill="#1f1f1f"/>
<rect x="512.09" y="30.17" width="1.56" height="531.11" fill="#2e2e2e"/>
<rect x="513.35" y="30.17" width="1.56" height="531.11" fill="#393939"/>
<rect x="514.61" y="30.17" width="1.56" height="531.11" fill="#292929"/>
<rect x="515.87" y="30.17" width="1.56" height="531.11" fill="#212121"/>
<rect x="517.14" y="30.17" width="1.56" height="531.11" fill="#383838"/>
<rect x="518.40" y="30.17" width="1.56" height="531.11" fill="#3b3b3b"/>
<rect x="519.66" y="30.17" width="1.56" height="531.11" fill="#404040"/>
<rect x="520.92" y="30.17" width="1.56" height="531.11" fill="#353535"/>
<rect x="522.18" y="30.17" width="4.08" height="531.11" fill="#363636"/>
<rect x="525.97" y="30.17" width="1.56" height="531.11" fill="#434343"/>
<rect x="527.23" y="30.17" width="1.56" height="531.11" fill="#484848"/>
<rect x="528.49" y="30.17" width="1.56" height="531.11" fill="#4c4c4c"/>
<rect x="529.75" y="30.17" width="1.56" height="531.11" fill="#3f3f3f"/>
<rect x="531.01" y="30.17" width="1.56" height="531.11" fill="#2f2f2f"/>
<rect x="532.27" y="30.17" width="1.56" height="531.11" fill="#373737"/>
<rect x="533.53" y="30.17" width="1.56" height="531.11" fill="#282828"/>
<rect x="534.80" y="30.17" width="1.56" height="531.11" fill="#232323"/>
<rect x="536.06" y="30.17" width="1.56" height="531.11" fill="#1f1f1f"/>
<rect x="537.32" y="30.17" width="1.56" height="531.11" fill="#202020"/>
<rect x="538.58" y="30.17" width="1.56" height="531.11" fill="#242424"/>
<rect x="539.84" y="30.17" width="1.56" height="531.11" fill="#292929"/>
<rect x="541.10" y="30.17" width="1.56" height="531.11" fill="#2f2f2f"/>
<rect x="542.36" y="30.17" width="1.56" height="531.11" fill="#414141"/>
<rect x="543.63" y="30.17" width="1.56" height="531.11" fill="#3e3e3e"/>
<rect x="544.89" y="30.17" width="1.56" height="531.11" fill="#434343"/>
<rect x="546.15" y="30.17" width="1.56" height="531.11" fill="#484848"/>
<rect x="547.41" y="30.17" width="1.56" height="531.11" fill="#444444"/>
<rect x="548.67" y="30.17" width="1.56" height="531.11" fill="#464646"/>
<rect x="549.93" y="30.17" width="2.82" height="531.11" fill="#484848"/>
<rect x="552.46" y="30.17" width="1.56" height="531.11" fill="#3f3f3f"/>
<rect x="553.72" y="30.17" width="1.56" height="531.11" fill="#2c2c2c"/>
<rect x="554.98" y="30.17" width="1.56" height="531.11" fill="#484848"/>
<rect x="556.24" y="30.17" width="2.82" height="531.11" fill="#202020"/>
<rect x="558.76" y="30.17" width="1.56" height="531.11" fill="#212121"/>
<rect x="560.03" y="30.17" width="1.56" height="531.11" fill="#1e1e1e"/>
<rect x="561.29" y="30.17" width="1.56" height="531.11" fill="#1b1b1b"/>
<rect x="562.55" y="30.17" width="1.56" height="531.11" fill="#252525"/>
<rect x="563.81" y="30.17" width="2.82" height="531.11" fill="#242424"/>
<rect x="566.33" y="30.17" width="1.56" height="531.11" fill="#252525"/>
<rect x="567.59" y="30.17" width="1.56" height="531.11" fill="#2c2c2c"/>
<rect x="568.86" y="30.17" width="1.56" height="531.11" fill="#454545"/>
<rect x="570.12" y="30.17" width="1.56" height="531.11" fill="#565656"/>
<rect x="571.38" y="30.17" width="1.56" height="531.11" fill="#424242"/>
<rect x="572.64" y="30.17" width="1.56" height="531.11" fill="#2f2f2f"/>
<rect x="573.90" y="30.17" width="1.56" height="531.11" fill="#272727"/>
<rect x="575.16" y="30.17" width="1.56" height="531.11" fill="#282828"/>
<rect x="576.42" y="30.17" width="4.08" height="531.11" fill="#1f1f1f"/>
<rect x="580.21" y="30.17" width="1.56" height="531.11" fill="#1e1e1e"/>
<rect x="581.47" y="30.17" width="1.56" height="531.11" fill="#2c2c2c"/>
<rect x="582.73" y="30.17" width="1.56" height="531.11" fill="#2f2f2f"/>
<rect x="583.99" y="30.17" width="1.56" height="531.11" fill="#2e2e2e"/>
<rect x="585.25" y="30.17" width="1.56" height="531.11" fill="#1d1d1d"/>
<rect x="586.52" y="30.17" width="1.56" height="531.11" fill="#1b1b1b"/>
<rect x="587.78" y="30.17" width="1.56" height="531.11" fill="#242424"/>
<rect x="589.04" y="30.17" width="1.56" height="531.11" fill="#292929"/>
<rect x="590.30" y="30.17" width="1.56" height="531.11" fill="#2a2a2a"/>
<rect x="591.56" y="30.17" width="1.56" height="531.11" fill="#353535"/>
<rect x="592.82" y="30.17" width="1.56" height="531.11" fill="#3f3f3f"/>
<rect x="594.09" y="30.17" width="1.56" height="531.11" fill="#484848"/>
<rect x="595.35" y="30.17" width="1.56" height="531.11" fill="#4a4a4a"/>
<rect x="596.61" y="30.17" width="1.56" height="531.11" fill="#454545"/>
<rect x="597.87" y="30.17" width="1.56" height="531.11" fill="#494949"/>
<rect x="599.13" y="30.17" width="1.56" height="531.11" fill="#484848"/>
<rect x="600.39" y="30.17" width="1.56" height="531.11" fill="#4b4b4b"/>
<rect x="601.65" y="30.17" width="1.56" height="531.11" fill="#4c4c4c"/>
<rect x="602.92" y="30.17" width="1.56" height="531.11" fill="#454545"/>
<rect x="604.18" y="30.17" width="1.56" height="531.11" fill="#4b4b4b"/>
<rect x="605.44" y="30.17" width="4.08" height="531.11" fill="#4f4f4f"/>
<rect x="609.22" y="30.17" width="1.56" height="531.11" fill="#535353"/>
<rect x="610.48" y="30.17" width="1.56" height="531.11" fill="#545454"/>
<rect x="611.75" y="30.17" width="1.56" height="531.11" fill="#555555"/>
<rect x="613.01" y="30.17" width="1.56" height="531.11" fill="#565656"/>
<rect x="614.27" y="30.17" width="2.82" height="531.11" fill="#575757"/>
<rect x="616.79" y="30.17" width="1.56" height="531.11" fill="#535353"/>
<rect x="618.05" y="30.17" width="1.56" height="531.11" fill="#4a4a4a"/>
<rect x="619.31" y="30.17" width="1.56" height="531.11" fill="#3c3c3c"/>
<rect x="620.58" y="30.17" width="1.56" height="531.11" fill="#313131"/>
<rect x="621.84" y="30.17" width="1.56" height="531.11" fill="#363636"/>
<rect x="623.10" y="30.17" width="1.56" height="531.11" fill="#383838"/>
<rect x="624.36" y="30.17" width="1.56" height="531.11" fill="#3c3c3c"/>
<rect x="625.62" y="30.17" width="1.56" height="531.11" fill="#3e3e3e"/>
<rect x="626.88" y="30.17" width="1.56" height="531.11" fill="#414141"/>
<rect x="628.15" y="30.17" width="1.56" height="531.11" fill="#3c3c3c"/>
<rect x="629.41" y="30.17" width="1.56" height="531.11" fill="#2c2c2c"/>
<rect x="630.67" y="30.17" width="1.56" height="531.11" fill="#2e2e2e"/>
<rect x="631.93" y="30.17" width="1.56" height="531.11" fill="#2f2f2f"/>
<rect x="633.19" y="30.17" width="1.56" height="531.11" fill="#323232"/>
<rect x="634.45" y="30.17" width="1.56" height="531.11" fill="#343434"/>
<rect x="635.71" y="30.17" width="1.56" height="531.11" fill="#353535"/>
<rect x="636.98" y="30.17" width="1.56" height="531.11" fill="#363636"/>
<rect x="638.24" y="30.17" width="1.56" height="531.11" fill="#373737"/>
<rect x="639.50" y="30.17" width="1.56" height="531.11" fill="#383838"/>
<rect x="640.76" y="30.17" width="2.82" height="531.11" fill="#3a3a3a"/>
<rect x="643.28" y="30.17" width="2.82" height="531.11" fill="#3b3b3b"/>
<rect x="645.81" y="30.17" width="1.56" height="531.11" fill="#4b4b4b"/>
<rect x="647.07" y="30.17" width="1.56" height="531.11" fill="#2d2d2d"/>
<rect x="648.33" y="30.17" width="1.56" height="531.11" fill="#313131"/>
<rect x="649.59" y="30.17" width="1.56" height="531.11" fill="#353535"/>
<rect x="650.85" y="30.17" width="1.56" height="531.11" fill="#363636"/>
<rect x="652.11" y="30.17" width="1.56" height="531.11" fill="#373737"/>
<rect x="653.37" y="30.17" width="1.56" height="531.11" fill="#383838"/>
<rect x="654.64" y="30.17" width="1.56" height="531.11" fill="#393939"/>
<rect x="655.90" y="30.17" width="1.56" height="531.11" fill="#3a3a3a"/>
<rect x="657.16" y="30.17" width="2.82" height="531.11" fill="#3b3b3b"/>
<rect x="659.68" y="30.17" width="2.82" height="531.11" fill="#3c3c3c"/>
<rect x="662.21" y="30.17" width="2.82" height="531.11" fill="#3d3d3d"/>
<rect x="664.73" y="30.17" width="1.56" height="531.11" fill="#4b4b4b"/>
<rect x="665.99" y="30.17" width="1.56" height="531.11" fill="#333333"/>
<rect x="667.25" y="30.17" width="1.56" height="531.11" fill="#363636"/>
<rect x="668.51" y="30.17" width="1.56" height="531.11" fill="#393939"/>
<rect x="669.77" y="30.17" width="1.56" height="531.11" fill="#3b3b3b"/>
<rect x="671.04" y="30.17" width="4.08" height="531.11" fill="#3d3d3d"/>
<rect x="674.82" y="30.17" width="1.56" height="531.11" fill="#474747"/>
<rect x="676.08" y="30.17" width="1.56" height="531.11" fill="#515151"/>
<rect x="677.34" y="30.17" width="1.56" height="531.11" fill="#323232"/>
<rect x="678.60" y="30.17" width="1.56" height="531.11" fill="#363636"/>
<rect x="679.87" y="30.17" width="1.56" height="531.11" fill="#3a3a3a"/>
<rect x="681.13" y="30.17" width="1.56" height="531.11" fill="#3b3b3b"/>
<rect x="682.39" y="30.17" width="2.82" height="531.11" fill="#3c3c3c"/>
<rect x="684.91" y="30.17" width="4.08" height="531.11" fill="#3d3d3d"/>
<rect x="688.70" y="30.17" width="2.82" height="531.11" fill="#3e3e3e"/>
<rect x="691.22" y="30.17" width="1.56" height="531.11" fill="#3f3f3f"/>
<rect x="692.48" y="30.17" width="6.61" height="531.11" fill="#404040"/>
<rect x="698.79" y="30.17" width="2.82" height="531.11" fill="#414141"/>
<rect x="701.31" y="30.17" width="1.56" height="531.11" fill="#424242"/>
<rect x="702.57" y="30.17" width="2.82" height="531.11" fill="#434343"/>
<rect x="705.10" y="30.17" width="2.82" height="531.11" fill="#444444"/>
<rect x="707.62" y="30.17" width="2.82" height="531.11" fill="#454545"/>
<rect x="710.14" y="30.17" width="4.08" height="531.11" fill="#464646"/>
<rect x="713.93" y="30.17" width="7.87" height="531.11" fill="#474747"/>
<rect x="721.49" y="30.17" width="2.82" height="531.11" fill="#484848"/>
<rect x="724.02" y="30.17" width="1.56" height="531.11" fill="#4e4e4e"/>
<rect x="725.28" y="30.17" width="1.56" height="531.11" fill="#535353"/>
<rect x="726.54" y="30.17" width="1.56" height="531.11" fill="#3c3c3c"/>
<rect x="727.80" y="30.17" width="1.56" height="531.11" fill="#3b3b3b"/>
<rect x="729.06" y="30.17" width="1.56" height="531.11" fill="#3e3e3e"/>
<rect x="730.33" y="30.17" width="2.82" height="531.11" fill="#404040"/>
<rect x="732.85" y="30.17" width="1.56" height="531.11" fill="#414141"/>
<rect x="734.11" y="30.17" width="1.56" height="531.11" fill="#404040"/>
<rect x="735.37" y="30.17" width="1.56" height="531.11" fill="#565656"/>
<rect x="736.63" y="30.17" width="1.56" height="531.11" fill="#393939"/>
<rect x="737.89" y="30.17" width="1.56" height="531.11" fill="#3d3d3d"/>
<rect x="739.16" y="30.17" width="1.56" height="531.11" fill="#3f3f3f"/>
<rect x="740.42" y="30.17" width="1.56" height="531.11" fill="#404040"/>
<rect x="741.68" y="30.17" width="1.56" height="531.11" fill="#414141"/>
<rect x="742.94" y="30.17" width="1.56" height="531.11" fill="#424242"/>
<rect x="744.20" y="30.17" width="5.35" height="531.11" fill="#434343"/>
<rect x="749.25" y="30.17" width="2.82" height="531.11" fill="#444444"/>
<rect x="751.77" y="30.17" width="1.56" height="531.11" fill="#434343"/>
<rect x="753.03" y="30.17" width="1.56" height="531.11" fill="#444444"/>
<rect x="754.29" y="30.17" width="1.56" height="531.11" fill="#454545"/>
<rect x="755.55" y="30.17" width="1.56" height="531.11" fill="#464646"/>
<rect x="756.82" y="30.17" width="2.82" height="531.11" fill="#474747"/>
<rect x="759.34" y="30.17" width="2.82" height="531.11" fill="#484848"/>
<rect x="761.86" y="30.17" width="2.82" height="531.11" fill="#494949"/>
<rect x="764.39" y="30.17" width="2.82" height="531.11" fill="#484848"/>
<rect x="766.91" y="30.17" width="2.82" height="531.11" fill="#494949"/>
<rect x="769.43" y="30.17" width="1.56" height="531.11" fill="#4a4a4a"/>
<rect x="770.69" y="30.17" width="6.61" height="531.11" fill="#494949"/>
<rect x="777.00" y="30.17" width="4.08" height="531.11" fill="#4a4a4a"/>
<rect x="780.78" y="30.17" width="4.08" height="531.11" fill="#4b4b4b"/>
<rect x="784.57" y="30.17" width="2.82" height="531.11" fill="#4c4c4c"/>
<rect x="787.09" y="30.17" width="1.56" height="531.11" fill="#4d4d4d"/>
<rect x="788.35" y="30.17" width="1.56" height="531.11" fill="#4c4c4c"/>
<rect x="789.61" y="30.17" width="4.08" height="531.11" fill="#4d4d4d"/>
<rect x="793.40" y="30.17" width="2.82" height="531.11" fill="#4e4e4e"/>
<rect x="795.92" y="30.17" width="1.56" height="531.11" fill="#4d4d4d"/>
<rect x="797.18" y="30.17" width="2.82" height="531.11" fill="#4e4e4e"/>
<rect x="799.71" y="30.17" width="1.56" height="531.11" fill="#4f4f4f"/>
<rect x="800.97" y="30.17" width="1.56" height="531.11" fill="#4e4e4e"/>
<rect x="802.23" y="30.17" width="1.56" height="531.11" fill="#4f4f4f"/>
<rect x="803.49" y="30.17" width="1.56" height="531.11" fill="#4e4e4e"/>
<rect x="804.75" y="30.17" width="5.35" height="531.11" fill="#505050"/>
<rect x="809.80" y="30.17" width="4.08" height="531.11" fill="#515151"/>
<rect x="813.58" y="30.17" width="2.82" height="531.11" fill="#525252"/>
<rect x="816.11" y="30.17" width="5.35" height="531.11" fill="#535353"/>
<rect x="821.15" y="30.17" width="6.61" height="531.11" fill="#545454"/>
<rect x="827.46" y="30.17" width="2.82" height="531.11" fill="#555555"/>
<rect x="829.98" y="30.17" width="1.56" height="531.11" fill="#565656"/>
<rect x="831.24" y="30.17" width="2.82" height="531.11" fill="#555555"/>
<rect x="833.77" y="30.17" width="2.82" height="531.11" fill="#565656"/>
<rect x="836.29" y="30.17" width="2.82" height="531.11" fill="#545454"/>
<rect x="838.81" y="30.17" width="1.56" height="531.11" fill="#555555"/>
<rect x="840.07" y="30.17" width="1.56" height="531.11" fill="#545454"/>
<rect x="841.34" y="30.17" width="4.08" height="531.11" fill="#555555"/>
<rect x="845.12" y="30.17" width="2.82" height="531.11" fill="#575757"/>
<rect x="847.64" y="30.17" width="7.87" height="531.11" fill="#585858"/>
<rect x="855.21" y="30.17" width="2.82" height="531.11" fill="#575757"/>
<rect x="857.73" y="30.17" width="1.56" height="531.11" fill="#585858"/>
<rect x="859.00" y="30.17" width="1.56" height="531.11" fill="#595959"/>
<rect x="860.26" y="30.17" width="1.56" height="531.11" fill="#585858"/>
<rect x="861.52" y="30.17" width="1.56" height="531.11" fill="#575757"/>
<rect x="862.78" y="30.17" width="1.56" height="531.11" fill="#585858"/>
<rect x="864.04" y="30.17" width="1.56" height="531.11" fill="#5a5a5a"/>
<rect x="865.30" y="30.17" width="2.82" height="531.11" fill="#585858"/>
<rect x="867.83" y="30.17" width="1.56" height="531.11" fill="#575757"/>
<rect x="869.09" y="30.17" width="1.56" height="531.11" fill="#595959"/>
<rect x="870.35" y="30.17" width="1.56" height="531.11" fill="#5a5a5a"/>
<rect x="871.61" y="30.17" width="1.56" height="531.11" fill="#565656"/>
<rect x="872.87" y="30.17" width="1.56" height="531.11" fill="#555555"/>
<rect x="874.13" y="30.17" width="1.56" height="531.11" fill="#535353"/>
<rect x="875.40" y="30.17" width="1.56" height="531.11" fill="#555555"/>
<rect x="876.66" y="30.17" width="1.56" height="531.11" fill="#565656"/>
<rect x="877.92" y="30.17" width="2.82" height="531.11" fill="#575757"/>
<rect x="880.44" y="30.17" width="1.56" height="531.11" fill="#595959"/>
<rect x="881.70" y="30.17" width="2.82" height="531.11" fill="#5a5a5a"/>
<rect x="884.23" y="30.17" width="1.56" height="531.11" fill="#5b5b5b"/>
<rect x="885.49" y="30.17" width="1.56" height="531.11" fill="#5a5a5a"/>
<rect x="886.75" y="30.17" width="2.82" height="531.11" fill="#5c5c5c"/>
<rect x="889.27" y="30.17" width="1.56" height="531.11" fill="#5d5d5d"/>
<rect x="890.53" y="30.17" width="1.56" height="531.11" fill="#5e5e5e"/>
<rect x="891.79" y="30.17" width="1.56" height="531.11" fill="#5d5d5d"/>
<rect x="893.06" y="30.17" width="5.35" height="531.11" fill="#5c5c5c"/>
<rect x="898.10" y="30.17" width="1.56" height="531.11" fill="#5d5d5d"/>
<rect x="899.36" y="30.17" width="2.82" height="531.11" fill="#5e5e5e"/>
<rect x="901.89" y="30.17" width="1.56" height="531.11" fill="#5f5f5f"/>
<rect x="903.15" y="30.17" width="1.56" height="531.11" fill="#5e5e5e"/>
<rect x="904.41" y="30.17" width="2.82" height="531.11" fill="#5f5f5f"/>
<rect x="906.93" y="30.17" width="5.35" height="531.11" fill="#606060"/>
<rect x="911.98" y="30.17" width="2.82" height="531.11" fill="#5f5f5f"/>
<rect x="914.50" y="30.17" width="4.08" height="531.11" fill="#606060"/>
<rect x="918.29" y="30.17" width="2.82" height="531.11" fill="#616161"/>
<rect x="920.81" y="30.17" width="1.56" height="531.11" fill="#626262"/>
<rect x="922.07" y="30.17" width="1.56" height="531.11" fill="#616161"/>
<rect x="923.33" y="30.17" width="1.56" height="531.11" fill="#636363"/>
<rect x="924.59" y="30.17" width="1.56" height="531.11" fill="#616161"/>
<rect x="925.85" y="30.17" width="2.82" height="531.11" fill="#626262"/>
<rect x="928.38" y="30.17" width="5.35" height="531.11" fill="#646464"/>
<rect x="933.42" y="30.17" width="6.61" height="531.11" fill="#656565"/>
<rect x="939.73" y="30.17" width="1.56" height="531.11" fill="#666666"/>
<rect x="940.99" y="30.17" width="5.35" height="531.11" fill="#676767"/>
<rect x="946.04" y="30.17" width="2.82" height="531.11" fill="#686868"/>
<rect x="948.56" y="30.17" width="5.35" height="531.11" fill="#696969"/>
<rect x="953.61" y="30.17" width="1.56" height="531.11" fill="#6a6a6a"/>
<rect x="954.87" y="30.17" width="1.56" height="531.11" fill="#696969"/>
<rect x="956.13" y="30.17" width="1.56" height="531.11" fill="#686868"/>
<rect x="957.39" y="30.17" width="1.56" height="531.11" fill="#676767"/>
<rect x="958.65" y="30.17" width="1.56" height="531.11" fill="#686868"/>
<rect x="959.91" y="30.17" width="1.56" height="531.11" fill="#6a6a6a"/>
<rect x="961.18" y="30.17" width="2.82" height="531.11" fill="#6b6b6b"/>
<rect x="963.70" y="30.17" width="1.56" height="531.11" fill="#6c6c6c"/>
<rect x="964.96" y="30.17" width="2.82" height="531.11" fill="#6d6d6d"/>
<rect x="967.48" y="30.17" width="1.56" height="531.11" fill="#6f6f6f"/>
<rect x="968.74" y="30.17" width="1.56" height="531.11" fill="#707070"/>
<rect x="970.01" y="30.17" width="1.56" height="531.11" fill="#737373"/>
<rect x="971.27" y="30.17" width="1.56" height="531.11" fill="#696969"/>
<rect x="972.53" y="30.17" width="4.08" height="531.11" fill="#6a6a6a"/>
<rect x="976.31" y="30.17" width="1.56" height="531.11" fill="#747474"/>
<rect x="977.58" y="30.17" width="1.56" height="531.11" fill="#757575"/>
<rect x="978.84" y="30.17" width="1.56" height="531.11" fill="#767676"/>
<rect x="980.10" y="30.17" width="5.35" height="531.11" fill="#6a6a6a"/>
<rect x="985.14" y="30.17" width="5.35" height="531.11" fill="#696969"/>
<rect x="990.19" y="30.17" width="2.82" height="531.11" fill="#6a6a6a"/>
<rect x="992.71" y="30.17" width="14.18" height="531.11" fill="#696969"/>
<rect x="1006.59" y="30.17" width="2.82" height="531.11" fill="#686868"/>
<rect x="1009.11" y="30.17" width="2.82" height="531.11" fill="#696969"/>
<rect x="1011.64" y="30.17" width="2.82" height="531.11" fill="#686868"/>
<rect x="1014.16" y="30.17" width="14.18" height="531.11" fill="#676767"/>
<rect x="1028.03" y="30.17" width="2.82" height="531.11" fill="#666666"/>
<rect x="1030.56" y="30.17" width="4.08" height="531.11" fill="#656565"/>
<rect x="1034.34" y="30.17" width="2.82" height="531.11" fill="#666666"/>
<rect x="1036.86" y="30.17" width="4.08" height="531.11" fill="#656565"/>
<rect x="1040.65" y="30.17" width="1.56" height="531.11" fill="#666666"/>
<rect x="1041.91" y="30.17" width="1.56" height="531.11" fill="#656565"/>
<rect x="1043.17" y="30.17" width="2.82" height="531.11" fill="#646464"/>
<rect x="1045.70" y="30.17" width="1.56" height="531.11" fill="#4a4a4a"/>
<rect x="1046.96" y="30.17" width="1.56" height="531.11" fill="#3b3b3b"/>
<rect x="1048.22" y="30.17" width="1.56" height="531.11" fill="#424242"/>
<rect x="1049.48" y="30.17" width="1.56" height="531.11" fill="#444444"/>
<rect x="1050.74" y="30.17" width="1.56" height="531.11" fill="#454545"/>
<rect x="1052.00" y="30.17" width="4.08" height="531.11" fill="#484848"/>
<rect x="1055.79" y="30.17" width="1.56" height="531.11" fill="#494949"/>
<rect x="1057.05" y="30.17" width="1.56" height="531.11" fill="#464646"/>
<rect x="1058.31" y="30.17" width="1.56" height="531.11" fill="#3f3f3f"/>
<rect x="1059.57" y="30.17" width="1.56" height="531.11" fill="#404040"/>
<rect x="1060.83" y="30.17" width="1.56" height="531.11" fill="#424242"/>
<rect x="1062.09" y="30.17" width="2.82" height="531.11" fill="#444444"/>
<rect x="1064.62" y="30.17" width="1.56" height="531.11" fill="#434343"/>
<rect x="1065.88" y="30.17" width="1.56" height="531.11" fill="#3e3e3e"/>
<rect x="1067.14" y="30.17" width="1.56" height="531.11" fill="#474747"/>
<rect x="1068.40" y="30.17" width="1.56" height="531.11" fill="#2d2d2d"/>
<rect x="1069.66" y="30.17" width="1.56" height="531.11" fill="#313131"/>
<rect x="1070.92" y="30.17" width="1.56" height="531.11" fill="#2e2e2e"/>
<rect x="1072.19" y="30.17" width="1.56" height="531.11" fill="#313131"/>
<rect x="1073.45" y="30.17" width="1.56" height="531.11" fill="#323232"/>
<rect x="1074.71" y="30.17" width="1.56" height="531.11" fill="#343434"/>
<rect x="1075.97" y="30.17" width="1.56" height="531.11" fill="#323232"/>
<rect x="1077.23" y="30.17" width="1.56" height="531.11" fill="#464646"/>
<rect x="1078.49" y="30.17" width="1.56" height="531.11" fill="#363636"/>
<rect x="1079.76" y="30.17" width="1.56" height="531.11" fill="#393939"/>
<rect x="1081.02" y="30.17" width="1.56" height="531.11" fill="#373737"/>
<rect x="1082.28" y="30.17" width="1.56" height="531.11" fill="#393939"/>
<rect x="1083.54" y="30.17" width="1.56" height="531.11" fill="#333333"/>
<rect x="1084.80" y="30.17" width="1.56" height="531.11" fill="#373737"/>
<rect x="1086.06" y="30.17" width="1.56" height="531.11" fill="#3d3d3d"/>
<rect x="1087.32" y="30.17" width="1.56" height="531.11" fill="#383838"/>
<rect x="1088.59" y="30.17" width="1.56" height="531.11" fill="#323232"/>
<rect x="1089.85" y="30.17" width="1.56" height="531.11" fill="#303030"/>
<rect x="1091.11" y="30.17" width="1.56" height="531.11" fill="#3a3a3a"/>
<rect x="1092.37" y="30.17" width="1.56" height="531.11" fill="#373737"/>
<rect x="1093.63" y="30.17" width="1.56" height="531.11" fill="#3e3e3e"/>
<rect x="1094.89" y="30.17" width="1.56" height="531.11" fill="#414141"/>
<rect x="1096.15" y="30.17" width="1.56" height="531.11" fill="#4d4d4d"/>
<rect x="1097.42" y="30.17" width="1.56" height="531.11" fill="#585858"/>
<rect x="1098.68" y="30.17" width="1.56" height="531.11" fill="#2e2e2e"/>
<rect x="1099.94" y="30.17" width="1.56" height="531.11" fill="#2c2c2c"/>
<rect x="1101.20" y="30.17" width="2.82" height="531.11" fill="#333333"/>
<rect x="1103.72" y="30.17" width="1.56" height="531.11" fill="#353535"/>
<rect x="1104.98" y="30.17" width="1.56" height="531.11" fill="#313131"/>
<g style="mix-blend-mode:plus-lighter">
<g filter="url(#bl3)"><path d="M60.0 322.5 L93.0 323.0 L130.0 326.5 L154.0 329.0 L200.0 329.5 L258.0 332.6 L292.0 337.6 L326.0 344.4 L350.0 349.6 L391.0 359.7 L424.0 369.7 L454.0 375.0 L474.0 378.0 L529.0 378.5 L574.0 377.5 L600.0 376.5 L650.0 372.0 L700.0 360.0 L734.0 351.0 L780.0 343.0 L820.0 335.0 L860.0 327.5 L900.0 325.5 L960.0 323.5 L1000.0 326.5 L1030.0 328.5 L1106.0 329.5 L1120.0 329.5" fill="none" stroke="url(#rg)" stroke-width="9"/></g>
<g filter="url(#bl2)"><path d="M60.0 322.5 L93.0 323.0 L130.0 326.5 L154.0 329.0 L200.0 329.5 L258.0 332.6 L292.0 337.6 L326.0 344.4 L350.0 349.6 L391.0 359.7 L424.0 369.7 L454.0 375.0 L474.0 378.0 L529.0 378.5 L574.0 377.5 L600.0 376.5 L650.0 372.0 L700.0 360.0 L734.0 351.0 L780.0 343.0 L820.0 335.0 L860.0 327.5 L900.0 325.5 L960.0 323.5 L1000.0 326.5 L1030.0 328.5 L1106.0 329.5 L1120.0 329.5" fill="none" stroke="url(#rn)" stroke-width="4.5"/></g>
<g filter="url(#bl5)"><path d="M60.0 322.5 L93.0 323.0 L130.0 326.5 L154.0 329.0 L200.0 329.5 L258.0 332.6 L292.0 337.6 L326.0 344.4 L350.0 349.6 L391.0 359.7 L424.0 369.7 L454.0 375.0 L474.0 378.0 L529.0 378.5 L574.0 377.5 L600.0 376.5 L650.0 372.0 L700.0 360.0 L734.0 351.0 L780.0 343.0 L820.0 335.0 L860.0 327.5 L900.0 325.5 L960.0 323.5 L1000.0 326.5 L1030.0 328.5 L1106.0 329.5 L1120.0 329.5" fill="none" stroke="url(#rw)" stroke-width="22"/></g>
<g filter="url(#bl2)"><polygon points="962.0,318.5 986.0,318.5 1024.0,327.5 1027.0,332.0 1000.0,332.5 977.0,327.5 962.0,324.0" fill="#fff" fill-opacity="0.36"/></g><g filter="url(#bl5)"><polygon points="963.0,325.0 1034.0,333.0 1018.0,348.0 998.0,366.0 984.0,352.0" fill="#fff" fill-opacity="0.22"/><polygon points="966.0,326.0 1030.0,333.0 1010.0,344.0 996.0,350.0 984.0,342.0" fill="#fff" fill-opacity="0.24"/><ellipse cx="999.0" cy="311" rx="24" ry="7" fill="#fff" fill-opacity="0.15"/></g><g filter="url(#bl8)"><ellipse cx="996.0" cy="274" rx="24" ry="20" fill="#fff" fill-opacity="0.14"/></g>
<g filter="url(#bl2)"><polygon points="94.2,318.5 118.2,318.5 156.2,327.5 159.2,332.0 132.2,332.5 109.2,327.5 94.2,324.0" fill="#fff" fill-opacity="0.36"/></g><g filter="url(#bl5)"><polygon points="95.2,325.0 166.2,333.0 150.2,348.0 130.2,366.0 116.2,352.0" fill="#fff" fill-opacity="0.22"/><polygon points="98.2,326.0 162.2,333.0 142.2,344.0 128.2,350.0 116.2,342.0" fill="#fff" fill-opacity="0.24"/><ellipse cx="131.2" cy="311" rx="24" ry="7" fill="#fff" fill-opacity="0.15"/></g><g filter="url(#bl8)"><ellipse cx="128.2" cy="274" rx="24" ry="20" fill="#fff" fill-opacity="0.14"/></g>
<g filter="url(#bl3)"><ellipse cx="506" cy="378.6" rx="22" ry="7" fill="#fff" fill-opacity="0.13"/></g>
<g filter="url(#bl5)"><ellipse cx="512" cy="380" rx="20" ry="11" fill="#fff" fill-opacity="0.13"/></g>
<rect x="93.28" y="96.56" width="1012.97" height="2.55" fill="url(#lg0)"/>
<rect x="93.28" y="229.33" width="1012.97" height="2.55" fill="url(#lg1)"/>
<rect x="93.28" y="275.29" width="1012.97" height="2.55" fill="url(#lg2)"/>
<rect x="93.28" y="318.70" width="1012.97" height="2.55" fill="url(#lg3)"/>
<rect x="93.28" y="364.66" width="1012.97" height="2.55" fill="url(#lg4)"/>
<rect x="93.28" y="408.07" width="1012.97" height="2.55" fill="url(#lg5)"/>
<rect x="93.28" y="454.03" width="1012.97" height="2.55" fill="url(#lg6)"/>
<rect x="93.28" y="497.44" width="1012.97" height="2.55" fill="url(#lg7)"/>
<rect x="93.28" y="543.40" width="1012.97" height="2.55" fill="url(#lg8)"/>
</g>
</g></g></g>

   <g id="matplotlib.axis_1">
    <g id="xtick_1">
     <g id="line2d_1">
      <defs>
       <path id="m1504cfccaf" d="M 0 0 
L 0 3.5 
" style="stroke: #000000; stroke-width: 0.8"/>
      </defs>
      <g>
       <use href="#m1504cfccaf" x="124.333675" y="404.12" style="stroke: #000000; stroke-width: 0.8"/>
      </g>
     </g>
     <g id="text_1">
      <text style="font-size: 10px; font-family: 'DejaVu Sans', 'Liberation Sans', sans-serif; text-anchor: middle" x="124.333675" y="418.718437" transform="rotate(-0 124.333675 418.718437)">−1</text>
     </g>
    </g>
    <g id="xtick_2">
     <g id="line2d_2">
      <g>
       <use href="#m1504cfccaf" x="223.766153" y="404.12" style="stroke: #000000; stroke-width: 0.8"/>
      </g>
     </g>
     <g id="text_2">
      <text style="font-size: 10px; font-family: 'DejaVu Sans', 'Liberation Sans', sans-serif; text-anchor: middle" x="223.766153" y="418.718437" transform="rotate(-0 223.766153 418.718437)">0</text>
     </g>
    </g>
    <g id="xtick_3">
     <g id="line2d_3">
      <g>
       <use href="#m1504cfccaf" x="323.19863" y="404.12" style="stroke: #000000; stroke-width: 0.8"/>
      </g>
     </g>
     <g id="text_3">
      <text style="font-size: 10px; font-family: 'DejaVu Sans', 'Liberation Sans', sans-serif; text-anchor: middle" x="323.19863" y="418.718437" transform="rotate(-0 323.19863 418.718437)">1</text>
     </g>
    </g>
    <g id="xtick_4">
     <g id="line2d_4">
      <g>
       <use href="#m1504cfccaf" x="422.631108" y="404.12" style="stroke: #000000; stroke-width: 0.8"/>
      </g>
     </g>
     <g id="text_4">
      <text style="font-size: 10px; font-family: 'DejaVu Sans', 'Liberation Sans', sans-serif; text-anchor: middle" x="422.631108" y="418.718437" transform="rotate(-0 422.631108 418.718437)">2</text>
     </g>
    </g>
    <g id="xtick_5">
     <g id="line2d_5">
      <g>
       <use href="#m1504cfccaf" x="522.063586" y="404.12" style="stroke: #000000; stroke-width: 0.8"/>
      </g>
     </g>
     <g id="text_5">
      <text style="font-size: 10px; font-family: 'DejaVu Sans', 'Liberation Sans', sans-serif; text-anchor: middle" x="522.063586" y="418.718437" transform="rotate(-0 522.063586 418.718437)">3</text>
     </g>
    </g>
    <g id="xtick_6">
     <g id="line2d_6">
      <g>
       <use href="#m1504cfccaf" x="621.496064" y="404.12" style="stroke: #000000; stroke-width: 0.8"/>
      </g>
     </g>
     <g id="text_6">
      <text style="font-size: 10px; font-family: 'DejaVu Sans', 'Liberation Sans', sans-serif; text-anchor: middle" x="621.496064" y="418.718437" transform="rotate(-0 621.496064 418.718437)">4</text>
     </g>
    </g>
    <g id="xtick_7">
     <g id="line2d_7">
      <g>
       <use href="#m1504cfccaf" x="720.928542" y="404.12" style="stroke: #000000; stroke-width: 0.8"/>
      </g>
     </g>
     <g id="text_7">
      <text style="font-size: 10px; font-family: 'DejaVu Sans', 'Liberation Sans', sans-serif; text-anchor: middle" x="720.928542" y="418.718437" transform="rotate(-0 720.928542 418.718437)">5</text>
     </g>
    </g>
   </g>
   <g id="matplotlib.axis_2">
    <g id="ytick_1">
     <g id="line2d_8">
      <defs>
       <path id="m5d545ce8f8" d="M 0 0 
L -3.5 0 
" style="stroke: #000000; stroke-width: 0.8"/>
      </defs>
      <g>
       <use href="#m5d545ce8f8" x="67.16" y="350.202738" style="stroke: #000000; stroke-width: 0.8"/>
      </g>
     </g>
     <g id="text_8">
      <text style="font-size: 10px; font-family: 'DejaVu Sans', 'Liberation Sans', sans-serif; text-anchor: end" x="60.16" y="354.001957" transform="rotate(-0 60.16 354.001957)">1419.5</text>
     </g>
    </g>
    <g id="ytick_2">
     <g id="line2d_9">
      <g>
       <use href="#m5d545ce8f8" x="67.16" y="295.486621" style="stroke: #000000; stroke-width: 0.8"/>
      </g>
     </g>
     <g id="text_9">
      <text style="font-size: 10px; font-family: 'DejaVu Sans', 'Liberation Sans', sans-serif; text-anchor: end" x="60.16" y="299.28584" transform="rotate(-0 60.16 299.28584)">1420.0</text>
     </g>
    </g>
    <g id="ytick_3">
     <g id="line2d_10">
      <g>
       <use href="#m5d545ce8f8" x="67.16" y="240.770504" style="stroke: #000000; stroke-width: 0.8"/>
      </g>
     </g>
     <g id="text_10">
      <text style="font-size: 10px; font-family: 'DejaVu Sans', 'Liberation Sans', sans-serif; text-anchor: end" x="60.16" y="244.569722" transform="rotate(-0 60.16 244.569722)">1420.5</text>
     </g>
    </g>
    <g id="ytick_4">
     <g id="line2d_11">
      <g>
       <use href="#m5d545ce8f8" x="67.16" y="186.054386" style="stroke: #000000; stroke-width: 0.8"/>
      </g>
     </g>
     <g id="text_11">
      <text style="font-size: 10px; font-family: 'DejaVu Sans', 'Liberation Sans', sans-serif; text-anchor: end" x="60.16" y="189.853605" transform="rotate(-0 60.16 189.853605)">1421.0</text>
     </g>
    </g>
    <g id="ytick_5">
     <g id="line2d_12">
      <g>
       <use href="#m5d545ce8f8" x="67.16" y="131.338269" style="stroke: #000000; stroke-width: 0.8"/>
      </g>
     </g>
     <g id="text_12">
      <text style="font-size: 10px; font-family: 'DejaVu Sans', 'Liberation Sans', sans-serif; text-anchor: end" x="60.16" y="135.137488" transform="rotate(-0 60.16 135.137488)">1421.5</text>
     </g>
    </g>
    <g id="ytick_6">
     <g id="line2d_13">
      <g>
       <use href="#m5d545ce8f8" x="67.16" y="76.622152" style="stroke: #000000; stroke-width: 0.8"/>
      </g>
     </g>
     <g id="text_13">
      <text style="font-size: 10px; font-family: 'DejaVu Sans', 'Liberation Sans', sans-serif; text-anchor: end" x="60.16" y="80.421371" transform="rotate(-0 60.16 80.421371)">1422.0</text>
     </g>
    </g>
    <g id="text_14">
     <text style="font-size: 10px; font-family: 'DejaVu Sans', 'Liberation Sans', sans-serif; text-anchor: middle" x="17.6097" y="214.0700" transform="rotate(-90 17.6097 214.0700)">WY</text>
    </g>
   </g>
   <g id="patch_2">
    <path d="M 67.16 404.12 
L 67.16 21.72 
" style="fill: none; stroke: #000000; stroke-width: 0.8; stroke-linejoin: miter; stroke-linecap: square"/>
   </g>
   <g id="patch_3">
    <path d="M 796.497225 404.12 
L 796.497225 21.72 
" style="fill: none; stroke: #000000; stroke-width: 0.8; stroke-linejoin: miter; stroke-linecap: square"/>
   </g>
   <g id="patch_4">
    <path d="M 67.16 404.12 
L 796.497225 404.12 
" style="fill: none; stroke: #000000; stroke-width: 0.8; stroke-linejoin: miter; stroke-linecap: square"/>
   </g>
   <g id="patch_5">
    <path d="M 67.16 21.72 
L 796.497225 21.72 
" style="fill: none; stroke: #000000; stroke-width: 0.8; stroke-linejoin: miter; stroke-linecap: square"/>
   </g>
  </g>
  <g id="axes_2">
   <g id="patch_6">
    <path d="M 1012.470235 404.12 
L 1924.141765 404.12 
L 1924.141765 21.72 
L 1012.470235 21.72 
z
" style="fill: #ffffff"/>
   </g>
   <g id="matplotlib.axis_3">
    <g id="xtick_8">
     <g id="line2d_14">
      <g>
       <use href="#m1504cfccaf" x="1052.178455" y="404.12" style="stroke: #000000; stroke-width: 0.8"/>
      </g>
     </g>
     <g id="text_15">
      <text style="font-size: 10px; font-family: 'DejaVu Sans', 'Liberation Sans', sans-serif; text-anchor: middle" x="1052.178455" y="418.718437" transform="rotate(-0 1052.178455 418.718437)">1419.0</text>
     </g>
    </g>
    <g id="xtick_9">
     <g id="line2d_15">
      <g>
       <use href="#m1504cfccaf" x="1170.767097" y="404.12" style="stroke: #000000; stroke-width: 0.8"/>
      </g>
     </g>
     <g id="text_16">
      <text style="font-size: 10px; font-family: 'DejaVu Sans', 'Liberation Sans', sans-serif; text-anchor: middle" x="1170.767097" y="418.718437" transform="rotate(-0 1170.767097 418.718437)">1419.5</text>
     </g>
    </g>
    <g id="xtick_10">
     <g id="line2d_16">
      <g>
       <use href="#m1504cfccaf" x="1289.355739" y="404.12" style="stroke: #000000; stroke-width: 0.8"/>
      </g>
     </g>
     <g id="text_17">
      <text style="font-size: 10px; font-family: 'DejaVu Sans', 'Liberation Sans', sans-serif; text-anchor: middle" x="1289.355739" y="418.718437" transform="rotate(-0 1289.355739 418.718437)">1420.0</text>
     </g>
    </g>
    <g id="xtick_11">
     <g id="line2d_17">
      <g>
       <use href="#m1504cfccaf" x="1407.944381" y="404.12" style="stroke: #000000; stroke-width: 0.8"/>
      </g>
     </g>
     <g id="text_18">
      <text style="font-size: 10px; font-family: 'DejaVu Sans', 'Liberation Sans', sans-serif; text-anchor: middle" x="1407.944381" y="418.718437" transform="rotate(-0 1407.944381 418.718437)">1420.5</text>
     </g>
    </g>
    <g id="xtick_12">
     <g id="line2d_18">
      <g>
       <use href="#m1504cfccaf" x="1526.533023" y="404.12" style="stroke: #000000; stroke-width: 0.8"/>
      </g>
     </g>
     <g id="text_19">
      <text style="font-size: 10px; font-family: 'DejaVu Sans', 'Liberation Sans', sans-serif; text-anchor: middle" x="1526.533023" y="418.718437" transform="rotate(-0 1526.533023 418.718437)">1421.0</text>
     </g>
    </g>
    <g id="xtick_13">
     <g id="line2d_19">
      <g>
       <use href="#m1504cfccaf" x="1645.121665" y="404.12" style="stroke: #000000; stroke-width: 0.8"/>
      </g>
     </g>
     <g id="text_20">
      <text style="font-size: 10px; font-family: 'DejaVu Sans', 'Liberation Sans', sans-serif; text-anchor: middle" x="1645.121665" y="418.718437" transform="rotate(-0 1645.121665 418.718437)">1421.5</text>
     </g>
    </g>
    <g id="xtick_14">
     <g id="line2d_20">
      <g>
       <use href="#m1504cfccaf" x="1763.710307" y="404.12" style="stroke: #000000; stroke-width: 0.8"/>
      </g>
     </g>
     <g id="text_21">
      <text style="font-size: 10px; font-family: 'DejaVu Sans', 'Liberation Sans', sans-serif; text-anchor: middle" x="1763.710307" y="418.718437" transform="rotate(-0 1763.710307 418.718437)">1422.0</text>
     </g>
    </g>
    <g id="xtick_15">
     <g id="line2d_21">
      <g>
       <use href="#m1504cfccaf" x="1882.298949" y="404.12" style="stroke: #000000; stroke-width: 0.8"/>
      </g>
     </g>
     <g id="text_22">
      <text style="font-size: 10px; font-family: 'DejaVu Sans', 'Liberation Sans', sans-serif; text-anchor: middle" x="1882.298949" y="418.718437" transform="rotate(-0 1882.298949 418.718437)">1422.5</text>
     </g>
    </g>
   </g>
   <g id="matplotlib.axis_4">
    <g id="ytick_7">
     <g id="line2d_22">
      <g>
       <use href="#m5d545ce8f8" x="1012.470235" y="371.039756" style="stroke: #000000; stroke-width: 0.8"/>
      </g>
     </g>
     <g id="text_23">
      <text style="font-size: 10px; font-family: 'DejaVu Sans', 'Liberation Sans', sans-serif; text-anchor: end" x="1005.470235" y="374.838975" transform="rotate(-0 1005.470235 374.838975)">2.45</text>
     </g>
    </g>
    <g id="ytick_8">
     <g id="line2d_23">
      <g>
       <use href="#m5d545ce8f8" x="1012.470235" y="324.023051" style="stroke: #000000; stroke-width: 0.8"/>
      </g>
     </g>
     <g id="text_24">
      <text style="font-size: 10px; font-family: 'DejaVu Sans', 'Liberation Sans', sans-serif; text-anchor: end" x="1005.470235" y="327.82227" transform="rotate(-0 1005.470235 327.82227)">2.50</text>
     </g>
    </g>
    <g id="ytick_9">
     <g id="line2d_24">
      <g>
       <use href="#m5d545ce8f8" x="1012.470235" y="277.006346" style="stroke: #000000; stroke-width: 0.8"/>
      </g>
     </g>
     <g id="text_25">
      <text style="font-size: 10px; font-family: 'DejaVu Sans', 'Liberation Sans', sans-serif; text-anchor: end" x="1005.470235" y="280.805565" transform="rotate(-0 1005.470235 280.805565)">2.55</text>
     </g>
    </g>
    <g id="ytick_10">
     <g id="line2d_25">
      <g>
       <use href="#m5d545ce8f8" x="1012.470235" y="229.989641" style="stroke: #000000; stroke-width: 0.8"/>
      </g>
     </g>
     <g id="text_26">
      <text style="font-size: 10px; font-family: 'DejaVu Sans', 'Liberation Sans', sans-serif; text-anchor: end" x="1005.470235" y="233.78886" transform="rotate(-0 1005.470235 233.78886)">2.60</text>
     </g>
    </g>
    <g id="ytick_11">
     <g id="line2d_26">
      <g>
       <use href="#m5d545ce8f8" x="1012.470235" y="182.972936" style="stroke: #000000; stroke-width: 0.8"/>
      </g>
     </g>
     <g id="text_27">
      <text style="font-size: 10px; font-family: 'DejaVu Sans', 'Liberation Sans', sans-serif; text-anchor: end" x="1005.470235" y="186.772154" transform="rotate(-0 1005.470235 186.772154)">2.65</text>
     </g>
    </g>
    <g id="ytick_12">
     <g id="line2d_27">
      <g>
       <use href="#m5d545ce8f8" x="1012.470235" y="135.956231" style="stroke: #000000; stroke-width: 0.8"/>
      </g>
     </g>
     <g id="text_28">
      <text style="font-size: 10px; font-family: 'DejaVu Sans', 'Liberation Sans', sans-serif; text-anchor: end" x="1005.470235" y="139.755449" transform="rotate(-0 1005.470235 139.755449)">2.70</text>
     </g>
    </g>
    <g id="ytick_13">
     <g id="line2d_28">
      <g>
       <use href="#m5d545ce8f8" x="1012.470235" y="88.939526" style="stroke: #000000; stroke-width: 0.8"/>
      </g>
     </g>
     <g id="text_29">
      <text style="font-size: 10px; font-family: 'DejaVu Sans', 'Liberation Sans', sans-serif; text-anchor: end" x="1005.470235" y="92.738744" transform="rotate(-0 1005.470235 92.738744)">2.75</text>
     </g>
    </g>
    <g id="ytick_14">
     <g id="line2d_29">
      <g>
       <use href="#m5d545ce8f8" x="1012.470235" y="41.92282" style="stroke: #000000; stroke-width: 0.8"/>
      </g>
     </g>
     <g id="text_30">
      <text style="font-size: 10px; font-family: 'DejaVu Sans', 'Liberation Sans', sans-serif; text-anchor: end" x="1005.470235" y="45.722039" transform="rotate(-0 1005.470235 45.722039)">2.80</text>
     </g>
    </g>
    <g id="text_31">
     <text style="font-size: 10px; font-family: 'DejaVu Sans', 'Liberation Sans', sans-serif; text-anchor: start" x="1012.470235" y="18.72" transform="rotate(-0 1012.470235 18.72)">1e11</text>
    </g>
   </g>
   <g id="line2d_30">
    <path d="M 1053.90985 366.236359 
L 1073.832741 367.495456 
L 1077.81732 292.521859 
L 1081.801898 312.739042 
L 1085.786477 368.303634 
L 1097.740212 369.111811 
L 1105.709368 369.978269 
L 1109.693947 370.230556 
L 1113.678525 367.433784 
L 1117.663103 370.438617 
L 1125.63226 371.046183 
L 1145.555152 372.787245 
L 1149.53973 282.36625 
L 1153.524309 373.15276 
L 1193.370093 375.224486 
L 1197.354671 374.336508 
L 1201.339249 375.505572 
L 1209.308406 376.218175 
L 1213.292984 376.548063 
L 1217.277563 286.691787 
L 1221.262141 377.086848 
L 1229.231298 377.576847 
L 1233.215876 376.489109 
L 1237.200455 377.858266 
L 1253.138768 378.475504 
L 1273.06166 378.844529 
L 1285.015395 378.844529 
L 1288.999973 309.824006 
L 1292.984552 377.151928 
L 1296.96913 377.810162 
L 1300.953708 376.11756 
L 1304.938287 374.613026 
L 1308.922865 371.41589 
L 1312.907444 366.150019 
L 1316.892022 357.781045 
L 1320.8766 347.249303 
L 1324.861179 329.665056 
L 1328.845757 305.310402 
L 1336.814914 243.812552 
L 1340.799492 236.195846 
L 1344.784071 242.684151 
L 1348.768649 265.064103 
L 1352.753227 286.409687 
L 1356.737806 240.615416 
L 1360.722384 315.089877 
L 1364.706962 315.089877 
L 1368.691541 310.858374 
L 1372.676119 307.285104 
L 1376.660698 302.4894 
L 1380.645276 289.888923 
L 1388.614433 273.150976 
L 1396.583589 247.950022 
L 1400.568168 229.42544 
L 1404.552746 202.155751 
L 1408.537324 166.046922 
L 1412.521903 125.800622 
L 1416.506481 81.416853 
L 1420.49106 75.774848 
L 1424.475638 117.149549 
L 1428.460216 74.834514 
L 1432.444795 246.378574 
L 1436.429373 309.723578 
L 1440.413951 333.96891 
L 1444.39853 346.19017 
L 1448.383108 354.597834 
L 1452.367687 361.131322 
L 1456.352265 365.953578 
L 1460.336843 368.650944 
L 1464.321422 369.964896 
L 1468.306 369.622309 
L 1472.290578 368.184656 
L 1476.275157 366.166508 
L 1480.259735 362.966305 
L 1484.244313 357.767445 
L 1488.228892 351.747862 
L 1492.21347 346.460552 
L 1496.198049 39.101818 
L 1500.182627 343.841899 
L 1504.167205 348.550126 
L 1508.151784 354.737245 
L 1512.136362 359.08836 
L 1520.105519 366.239735 
L 1524.090097 369.283503 
L 1528.074676 371.618238 
L 1532.059254 373.519323 
L 1536.043832 376.889968 
L 1540.028411 379.687746 
L 1544.012989 381.789492 
L 1547.997567 383.276531 
L 1551.982146 384.361291 
L 1555.966724 385.103804 
L 1559.951302 385.56115 
L 1563.935881 385.893919 
L 1567.920459 284.529019 
L 1571.905038 386.367202 
L 1583.858773 386.430529 
L 1587.843351 384.071222 
L 1591.827929 386.738182 
L 1627.689135 386.558587 
L 1631.673713 386.405536 
L 1635.658292 369.159088 
L 1639.64287 386.367202 
L 1643.627448 386.242884 
L 1647.612027 384.674601 
L 1651.596605 386.179135 
L 1679.488654 385.911755 
L 1699.411545 385.708968 
L 1703.396124 379.784863 
L 1707.380702 371.41589 
L 1711.365281 385.708968 
L 1767.149378 384.728936 
L 1771.133956 384.643635 
L 1775.118534 265.81637 
L 1779.103113 384.377285 
L 1795.041426 383.928298 
L 1799.026005 382.887966 
L 1803.010583 383.922333 
L 1818.948897 383.662873 
L 1822.933475 383.501141 
L 1826.918053 377.179442 
L 1830.902632 383.082086 
L 1838.871788 382.981999 
L 1842.856367 378.750496 
L 1846.840945 379.784863 
L 1850.825523 382.877141 
L 1858.79468 382.30944 
L 1882.70215 381.95025 
L 1882.70215 381.95025 
" clip-path="url(#pf44bcd6992)" style="fill: none; stroke: #1f77b4; stroke-width: 1.5; stroke-linecap: square"/>
   </g>
   <g id="line2d_31">
    <defs>
     <path id="m084c841ee3" d="M 0 3 
C 0.795609 3 1.55874 2.683901 2.12132 2.12132 
C 2.683901 1.55874 3 0.795609 3 0 
C 3 -0.795609 2.683901 -1.55874 2.12132 -2.12132 
C 1.55874 -2.683901 0.795609 -3 0 -3 
C -0.795609 -3 -1.55874 -2.683901 -2.12132 -2.12132 
C -2.683901 -1.55874 -3 -0.795609 -3 0 
C -3 0.795609 -2.683901 1.55874 -2.12132 2.12132 
C -1.55874 2.683901 -0.795609 3 0 3 
z
" style="stroke: #ff0000"/>
    </defs>
    <g clip-path="url(#pf44bcd6992)">
     <use href="#m084c841ee3" x="1077.81732" y="292.521859" style="fill: #ff0000; stroke: #ff0000"/>
     <use href="#m084c841ee3" x="1149.53973" y="282.36625" style="fill: #ff0000; stroke: #ff0000"/>
     <use href="#m084c841ee3" x="1217.277563" y="286.691787" style="fill: #ff0000; stroke: #ff0000"/>
     <use href="#m084c841ee3" x="1288.999973" y="309.824006" style="fill: #ff0000; stroke: #ff0000"/>
     <use href="#m084c841ee3" x="1356.737806" y="240.615416" style="fill: #ff0000; stroke: #ff0000"/>
     <use href="#m084c841ee3" x="1416.506481" y="81.416853" style="fill: #ff0000; stroke: #ff0000"/>
     <use href="#m084c841ee3" x="1420.49106" y="75.774848" style="fill: #ff0000; stroke: #ff0000"/>
     <use href="#m084c841ee3" x="1428.460216" y="74.834514" style="fill: #ff0000; stroke: #ff0000"/>
     <use href="#m084c841ee3" x="1496.198049" y="39.101818" style="fill: #ff0000; stroke: #ff0000"/>
     <use href="#m084c841ee3" x="1567.920459" y="284.529019" style="fill: #ff0000; stroke: #ff0000"/>
     <use href="#m084c841ee3" x="1635.658292" y="369.159088" style="fill: #ff0000; stroke: #ff0000"/>
     <use href="#m084c841ee3" x="1775.118534" y="265.81637" style="fill: #ff0000; stroke: #ff0000"/>
    </g>
   </g>
   <g id="patch_7">
    <path d="M 1012.470235 404.12 
L 1012.470235 21.72 
" style="fill: none; stroke: #000000; stroke-width: 0.8; stroke-linejoin: miter; stroke-linecap: square"/>
   </g>
   <g id="patch_8">
    <path d="M 1924.141765 404.12 
L 1924.141765 21.72 
" style="fill: none; stroke: #000000; stroke-width: 0.8; stroke-linejoin: miter; stroke-linecap: square"/>
   </g>
   <g id="patch_9">
    <path d="M 1012.470235 404.12 
L 1924.141765 404.12 
" style="fill: none; stroke: #000000; stroke-width: 0.8; stroke-linejoin: miter; stroke-linecap: square"/>
   </g>
   <g id="patch_10">
    <path d="M 1012.470235 21.72 
L 1924.141765 21.72 
" style="fill: none; stroke: #000000; stroke-width: 0.8; stroke-linejoin: miter; stroke-linecap: square"/>
   </g>
  </g>
  <g id="axes_3">
   <g id="patch_11">
    <path d="M 1957.780469 404.12 
L 2869.452 404.12 
L 2869.452 21.72 
L 1957.780469 21.72 
z
" style="fill: #ffffff"/>
   </g>
   <g id="matplotlib.axis_5">
    <g id="xtick_16">
     <g id="line2d_32">
      <g>
       <use href="#m1504cfccaf" x="1999.220084" y="404.12" style="stroke: #000000; stroke-width: 0.8"/>
      </g>
     </g>
     <g id="text_32">
      <text style="font-size: 10px; font-family: 'DejaVu Sans', 'Liberation Sans', sans-serif; text-anchor: middle" x="1999.220084" y="418.718437" transform="rotate(-0 1999.220084 418.718437)">0</text>
     </g>
    </g>
    <g id="xtick_17">
     <g id="line2d_33">
      <g>
       <use href="#m1504cfccaf" x="2102.432077" y="404.12" style="stroke: #000000; stroke-width: 0.8"/>
      </g>
     </g>
     <g id="text_33">
      <text style="font-size: 10px; font-family: 'DejaVu Sans', 'Liberation Sans', sans-serif; text-anchor: middle" x="2102.432077" y="418.718437" transform="rotate(-0 2102.432077 418.718437)">100</text>
     </g>
    </g>
    <g id="xtick_18">
     <g id="line2d_34">
      <g>
       <use href="#m1504cfccaf" x="2205.644069" y="404.12" style="stroke: #000000; stroke-width: 0.8"/>
      </g>
     </g>
     <g id="text_34">
      <text style="font-size: 10px; font-family: 'DejaVu Sans', 'Liberation Sans', sans-serif; text-anchor: middle" x="2205.644069" y="418.718437" transform="rotate(-0 2205.644069 418.718437)">200</text>
     </g>
    </g>
    <g id="xtick_19">
     <g id="line2d_35">
      <g>
       <use href="#m1504cfccaf" x="2308.856062" y="404.12" style="stroke: #000000; stroke-width: 0.8"/>
      </g>
     </g>
     <g id="text_35">
      <text style="font-size: 10px; font-family: 'DejaVu Sans', 'Liberation Sans', sans-serif; text-anchor: middle" x="2308.856062" y="418.718437" transform="rotate(-0 2308.856062 418.718437)">300</text>
     </g>
    </g>
    <g id="xtick_20">
     <g id="line2d_36">
      <g>
       <use href="#m1504cfccaf" x="2412.068055" y="404.12" style="stroke: #000000; stroke-width: 0.8"/>
      </g>
     </g>
     <g id="text_36">
      <text style="font-size: 10px; font-family: 'DejaVu Sans', 'Liberation Sans', sans-serif; text-anchor: middle" x="2412.068055" y="418.718437" transform="rotate(-0 2412.068055 418.718437)">400</text>
     </g>
    </g>
    <g id="xtick_21">
     <g id="line2d_37">
      <g>
       <use href="#m1504cfccaf" x="2515.280047" y="404.12" style="stroke: #000000; stroke-width: 0.8"/>
      </g>
     </g>
     <g id="text_37">
      <text style="font-size: 10px; font-family: 'DejaVu Sans', 'Liberation Sans', sans-serif; text-anchor: middle" x="2515.280047" y="418.718437" transform="rotate(-0 2515.280047 418.718437)">500</text>
     </g>
    </g>
    <g id="xtick_22">
     <g id="line2d_38">
      <g>
       <use href="#m1504cfccaf" x="2618.49204" y="404.12" style="stroke: #000000; stroke-width: 0.8"/>
      </g>
     </g>
     <g id="text_38">
      <text style="font-size: 10px; font-family: 'DejaVu Sans', 'Liberation Sans', sans-serif; text-anchor: middle" x="2618.49204" y="418.718437" transform="rotate(-0 2618.49204 418.718437)">600</text>
     </g>
    </g>
    <g id="xtick_23">
     <g id="line2d_39">
      <g>
       <use href="#m1504cfccaf" x="2721.704033" y="404.12" style="stroke: #000000; stroke-width: 0.8"/>
      </g>
     </g>
     <g id="text_39">
      <text style="font-size: 10px; font-family: 'DejaVu Sans', 'Liberation Sans', sans-serif; text-anchor: middle" x="2721.704033" y="418.718437" transform="rotate(-0 2721.704033 418.718437)">700</text>
     </g>
    </g>
    <g id="xtick_24">
     <g id="line2d_40">
      <g>
       <use href="#m1504cfccaf" x="2824.916025" y="404.12" style="stroke: #000000; stroke-width: 0.8"/>
      </g>
     </g>
     <g id="text_40">
      <text style="font-size: 10px; font-family: 'DejaVu Sans', 'Liberation Sans', sans-serif; text-anchor: middle" x="2824.916025" y="418.718437" transform="rotate(-0 2824.916025 418.718437)">800</text>
     </g>
    </g>
   </g>
   <g id="matplotlib.axis_6">
    <g id="ytick_15">
     <g id="line2d_41">
      <g>
       <use href="#m5d545ce8f8" x="1957.780469" y="356.085598" style="stroke: #000000; stroke-width: 0.8"/>
      </g>
     </g>
     <g id="text_41">
      <text style="font-size: 10px; font-family: 'DejaVu Sans', 'Liberation Sans', sans-serif; text-anchor: end" x="1950.780469" y="359.884817" transform="rotate(-0 1950.780469 359.884817)">2.0</text>
     </g>
    </g>
    <g id="ytick_16">
     <g id="line2d_42">
      <g>
       <use href="#m5d545ce8f8" x="1957.780469" y="295.141049" style="stroke: #000000; stroke-width: 0.8"/>
      </g>
     </g>
     <g id="text_42">
      <text style="font-size: 10px; font-family: 'DejaVu Sans', 'Liberation Sans', sans-serif; text-anchor: end" x="1950.780469" y="298.940267" transform="rotate(-0 1950.780469 298.940267)">2.2</text>
     </g>
    </g>
    <g id="ytick_17">
     <g id="line2d_43">
      <g>
       <use href="#m5d545ce8f8" x="1957.780469" y="234.196499" style="stroke: #000000; stroke-width: 0.8"/>
      </g>
     </g>
     <g id="text_43">
      <text style="font-size: 10px; font-family: 'DejaVu Sans', 'Liberation Sans', sans-serif; text-anchor: end" x="1950.780469" y="237.995718" transform="rotate(-0 1950.780469 237.995718)">2.4</text>
     </g>
    </g>
    <g id="ytick_18">
     <g id="line2d_44">
      <g>
       <use href="#m5d545ce8f8" x="1957.780469" y="173.25195" style="stroke: #000000; stroke-width: 0.8"/>
      </g>
     </g>
     <g id="text_44">
      <text style="font-size: 10px; font-family: 'DejaVu Sans', 'Liberation Sans', sans-serif; text-anchor: end" x="1950.780469" y="177.051169" transform="rotate(-0 1950.780469 177.051169)">2.6</text>
     </g>
    </g>
    <g id="ytick_19">
     <g id="line2d_45">
      <g>
       <use href="#m5d545ce8f8" x="1957.780469" y="112.307401" style="stroke: #000000; stroke-width: 0.8"/>
      </g>
     </g>
     <g id="text_45">
      <text style="font-size: 10px; font-family: 'DejaVu Sans', 'Liberation Sans', sans-serif; text-anchor: end" x="1950.780469" y="116.10662" transform="rotate(-0 1950.780469 116.10662)">2.8</text>
     </g>
    </g>
    <g id="ytick_20">
     <g id="line2d_46">
      <g>
       <use href="#m5d545ce8f8" x="1957.780469" y="51.362852" style="stroke: #000000; stroke-width: 0.8"/>
      </g>
     </g>
     <g id="text_46">
      <text style="font-size: 10px; font-family: 'DejaVu Sans', 'Liberation Sans', sans-serif; text-anchor: end" x="1950.780469" y="55.162071" transform="rotate(-0 1950.780469 55.162071)">3.0</text>
     </g>
    </g>
    <g id="text_47">
     <text style="font-size: 10px; font-family: 'DejaVu Sans', 'Liberation Sans', sans-serif; text-anchor: start" x="1957.780469" y="18.72" transform="rotate(-0 1957.780469 18.72)">1e11</text>
    </g>
   </g>
   <g id="line2d_47">
    <path d="M 1999.220084 49.920377 
L 2000.252204 42.347386 
L 2001.284324 51.72347 
L 2003.348564 53.526564 
L 2004.380684 54.732112 
L 2005.412804 55.329657 
L 2006.444924 52.444708 
L 2007.477043 51.32027 
L 2008.509163 49.559759 
L 2009.541283 51.658439 
L 2010.573403 54.247801 
L 2011.605523 55.995503 
L 2012.637643 58.575224 
L 2013.669763 57.017063 
L 2014.701883 54.247801 
L 2015.734003 52.781422 
L 2016.766123 50.5647 
L 2017.798243 48.838521 
L 2018.830363 48.417391 
L 2019.862483 48.117284 
L 2021.926722 47.035428 
L 2022.958842 47.464968 
L 2023.990962 47.756665 
L 2026.055202 45.953572 
L 2027.087322 46.215417 
L 2028.119442 46.732653 
L 2029.151562 47.035428 
L 2030.183682 45.815936 
L 2031.215802 45.232335 
L 2033.280042 49.559759 
L 2034.312162 49.338714 
L 2035.344282 48.838521 
L 2037.408521 49.19914 
L 2038.440641 45.232335 
L 2039.472761 43.034346 
L 2040.504881 40.544293 
L 2041.537001 39.462437 
L 2043.601241 39.101818 
L 2044.633361 40.183674 
L 2045.665481 43.429242 
L 2047.729721 54.247801 
L 2048.761841 64.345123 
L 2049.79396 69.42541 
L 2050.82608 72.278733 
L 2051.8582 76.966775 
L 2052.89032 76.21539 
L 2055.98668 75.163682 
L 2059.08304 74.803063 
L 2062.1794 75.163682 
L 2063.21152 77.688012 
L 2064.243639 85.982241 
L 2066.307879 93.194613 
L 2067.339999 94.874606 
L 2068.372119 95.718944 
L 2069.404239 104.73441 
L 2070.436359 111.946782 
L 2071.468479 108.340596 
L 2072.500599 116.622982 
L 2073.532719 123.847197 
L 2074.564839 121.799004 
L 2075.596959 120.241011 
L 2077.661198 126.371528 
L 2080.757558 125.289672 
L 2081.789678 128.56005 
L 2082.821798 129.977714 
L 2083.853918 135.386994 
L 2084.886038 134.506086 
L 2085.918158 132.862663 
L 2086.950278 139.353799 
L 2087.982398 141.560265 
L 2089.014518 145.844934 
L 2090.046638 154.632489 
L 2091.078758 160.269679 
L 2092.110877 154.499781 
L 2093.142997 161.083091 
L 2094.175117 165.31834 
L 2095.207237 160.269679 
L 2096.239357 168.203289 
L 2097.271477 161.395711 
L 2098.303597 157.38473 
L 2099.335717 160.269679 
L 2100.367837 156.215576 
L 2101.399957 153.778544 
L 2102.432077 150.172358 
L 2103.464197 149.652886 
L 2105.528437 147.047777 
L 2106.560556 144.763078 
L 2107.592676 150.538386 
L 2108.624796 153.778544 
L 2109.656916 164.597103 
L 2110.689036 186.234221 
L 2112.753276 234.917737 
L 2113.785396 225.121802 
L 2114.817516 218.689898 
L 2115.849636 204.265153 
L 2116.881756 206.068246 
L 2117.913876 193.446594 
L 2118.945996 239.605779 
L 2121.010235 216.886805 
L 2122.042355 232.393406 
L 2123.074475 229.508457 
L 2124.106595 232.393406 
L 2125.138715 199.577111 
L 2126.170835 276.38888 
L 2127.202955 247.539389 
L 2128.235075 225.902271 
L 2129.267195 227.203743 
L 2130.299315 229.508457 
L 2131.331435 245.736296 
L 2132.363555 236.128622 
L 2133.395675 222.296084 
L 2134.427794 236.72083 
L 2135.459914 291.895481 
L 2136.492034 277.560944 
L 2137.524154 269.176507 
L 2138.556274 265.570321 
L 2139.588394 263.767227 
L 2140.620514 238.523923 
L 2141.652634 231.287173 
L 2142.684754 225.902271 
L 2143.716874 229.508457 
L 2144.748994 240.654278 
L 2145.781114 247.539389 
L 2146.813234 252.948668 
L 2147.845353 220.492991 
L 2148.877473 211.991046 
L 2149.909593 206.068246 
L 2150.941713 288.649913 
L 2151.973833 260.111708 
L 2153.005953 243.933203 
L 2154.038073 206.789483 
L 2155.070193 263.767227 
L 2156.102313 222.296084 
L 2158.166553 219.411135 
L 2159.198673 258.357948 
L 2160.230793 263.767227 
L 2161.262913 271.246187 
L 2162.295032 276.38888 
L 2163.327152 258.357948 
L 2164.359272 235.638974 
L 2165.391392 283.601252 
L 2166.423512 298.119831 
L 2167.455632 317.499404 
L 2169.519872 265.570321 
L 2170.551992 264.584209 
L 2171.584112 263.767227 
L 2172.616232 216.886805 
L 2173.648352 295.862286 
L 2174.680472 285.764964 
L 2175.712591 291.174244 
L 2176.744711 282.305982 
L 2177.776831 276.38888 
L 2178.808951 228.78722 
L 2179.841071 287.207439 
L 2180.873191 292.2561 
L 2181.905311 278.191973 
L 2182.937431 279.995066 
L 2183.969551 235.999593 
L 2185.001671 265.296539 
L 2186.033791 298.386616 
L 2187.065911 292.977337 
L 2188.098031 276.38888 
L 2189.130151 254.751762 
L 2190.16227 243.933203 
L 2191.19439 285.764964 
L 2192.22651 296.583523 
L 2193.25863 305.598989 
L 2194.29075 300.18971 
L 2195.32287 247.539389 
L 2196.35499 211.477525 
L 2197.38711 181.097396 
L 2198.41923 156.663493 
L 2199.45135 260.161041 
L 2200.48347 226.944909 
L 2201.51559 204.265153 
L 2203.57983 148.008646 
L 2204.611949 229.508457 
L 2205.644069 231.369249 
L 2206.676189 233.835881 
L 2207.708309 194.167831 
L 2208.740429 223.103906 
L 2209.772549 243.933203 
L 2210.804669 247.539389 
L 2211.836789 261.964134 
L 2212.868909 273.503931 
L 2213.901029 254.848119 
L 2214.933149 228.78722 
L 2215.965269 288.649913 
L 2216.997389 276.38888 
L 2218.029508 261.964134 
L 2219.061628 203.183297 
L 2220.093748 279.995066 
L 2221.125868 282.158778 
L 2223.190108 240.670596 
L 2224.222228 303.074659 
L 2225.254348 300.18971 
L 2226.286468 317.499404 
L 2228.350708 300.18971 
L 2229.382828 265.570321 
L 2230.414948 257.52088 
L 2231.447068 245.015058 
L 2232.479187 312.811362 
L 2233.511307 303.795896 
L 2235.575547 289.371151 
L 2236.607667 258.357948 
L 2237.639787 301.992803 
L 2238.671907 301.309791 
L 2239.704027 300.18971 
L 2240.736147 285.764964 
L 2241.768267 247.539389 
L 2242.800387 197.05278 
L 2243.832507 296.583523 
L 2245.896746 318.220641 
L 2246.928866 308.981592 
L 2247.960986 292.977337 
L 2248.993106 217.968661 
L 2250.025226 326.154251 
L 2251.057346 296.583523 
L 2252.089466 261.964134 
L 2253.121586 236.72083 
L 2254.153706 307.402082 
L 2255.185826 319.302497 
L 2256.217946 300.18971 
L 2257.250066 253.309287 
L 2258.282186 283.789063 
L 2259.314306 303.795896 
L 2260.346425 320.023734 
L 2261.378545 276.38888 
L 2262.410665 314.614455 
L 2263.442785 327.899992 
L 2264.474905 342.742708 
L 2265.507025 332.645387 
L 2266.539145 325.550576 
L 2267.571265 314.614455 
L 2268.603385 285.764964 
L 2269.635505 307.402082 
L 2270.667625 283.601252 
L 2271.699745 211.838144 
L 2272.731865 283.601252 
L 2273.763985 300.18971 
L 2274.796104 324.711777 
L 2275.828224 313.77003 
L 2276.860344 300.18971 
L 2277.892464 231.31155 
L 2278.924584 314.614455 
L 2279.956704 336.251573 
L 2280.988824 335.530336 
L 2282.020944 356.085598 
L 2283.053064 350.676318 
L 2284.085184 367.625394 
L 2285.117304 332.645387 
L 2287.181544 366.904157 
L 2288.213663 336.251573 
L 2289.245783 376.64086 
L 2290.277903 339.857759 
L 2291.310023 359.691784 
L 2292.342143 357.167454 
L 2293.374263 366.256396 
L 2294.406383 380.607665 
L 2295.438503 339.857759 
L 2296.470623 353.468949 
L 2297.502743 365.101064 
L 2298.534863 354.282505 
L 2299.566983 377.722716 
L 2300.599103 359.691784 
L 2301.631223 375.467587 
L 2302.663342 384.935089 
L 2303.695462 386.738182 
L 2304.727582 321.826828 
L 2305.759702 365.101064 
L 2306.791822 345.267039 
L 2307.823942 348.873225 
L 2308.856062 345.267039 
L 2310.920302 348.873225 
L 2311.952422 305.598989 
L 2312.984542 325.433014 
L 2314.016662 291.174244 
L 2315.048782 300.18971 
L 2316.080901 325.433014 
L 2317.113021 332.645387 
L 2318.145141 329.0392 
L 2319.177261 333.125009 
L 2320.209381 336.251573 
L 2321.241501 338.054666 
L 2322.273621 368.70725 
L 2323.305741 325.433014 
L 2324.337861 304.517133 
L 2325.369981 339.857759 
L 2326.402101 341.972968 
L 2327.434221 343.463946 
L 2328.466341 342.742708 
L 2329.498461 386.738182 
L 2330.53058 375.919623 
L 2331.5627 327.236107 
L 2333.62694 320.023734 
L 2334.65906 305.598989 
L 2335.69118 348.873225 
L 2336.7233 332.645387 
L 2337.75542 327.236107 
L 2338.78754 334.44848 
L 2339.81966 343.463946 
L 2340.85178 323.089894 
L 2341.8839 289.371151 
L 2342.91602 263.767227 
L 2343.948139 301.632184 
L 2344.980259 320.023734 
L 2346.012379 265.570321 
L 2347.044499 257.360423 
L 2348.076619 246.457533 
L 2349.108739 272.782693 
L 2350.140859 270.9796 
L 2351.172979 270.188908 
L 2352.205099 269.176507 
L 2353.237219 236.72083 
L 2354.269339 226.182111 
L 2355.301459 213.280619 
L 2356.333579 247.539389 
L 2357.365699 285.764964 
L 2358.397818 267.373414 
L 2359.429938 303.795896 
L 2360.462058 314.614455 
L 2361.494178 323.629921 
L 2362.526298 321.10559 
L 2363.558418 312.65662 
L 2364.590538 300.18971 
L 2365.622658 285.764964 
L 2366.654778 243.933203 
L 2367.686898 249.342482 
L 2369.751138 225.902271 
L 2370.783258 234.917737 
L 2371.815378 229.508457 
L 2372.847497 225.998628 
L 2373.879617 223.738559 
L 2374.911737 247.539389 
L 2375.943857 292.977337 
L 2376.975977 225.181034 
L 2378.008097 321.826828 
L 2379.040217 321.085396 
L 2380.072337 320.023734 
L 2381.104457 325.433014 
L 2382.136577 331.924149 
L 2383.168697 311.008269 
L 2384.200817 312.811362 
L 2385.232937 311.63982 
L 2386.265056 310.287031 
L 2387.297176 292.977337 
L 2388.329296 232.007268 
L 2389.361416 187.316077 
L 2390.393536 239.812305 
L 2391.425656 285.764964 
L 2392.457776 305.598989 
L 2393.489896 303.795896 
L 2394.522016 324.711777 
L 2395.554136 324.433668 
L 2396.586256 323.990539 
L 2397.618376 325.433014 
L 2398.650496 292.977337 
L 2399.682616 286.486201 
L 2400.714735 289.371151 
L 2401.746855 329.0392 
L 2402.778975 332.645387 
L 2403.811095 313.554957 
L 2404.843215 301.992803 
L 2405.875335 298.386616 
L 2407.939575 247.539389 
L 2408.971695 225.902271 
L 2410.003815 220.492991 
L 2411.035935 233.114644 
L 2412.068055 222.296084 
L 2413.100175 224.099178 
L 2414.132294 217.224633 
L 2415.164414 213.280619 
L 2416.196534 232.393406 
L 2417.228654 216.886805 
L 2418.260774 207.871339 
L 2419.292894 207.186074 
L 2420.325014 206.068246 
L 2421.357134 197.05278 
L 2422.389254 194.177748 
L 2423.421374 191.643501 
L 2424.453494 186.955458 
L 2425.485614 185.152365 
L 2426.517734 185.512984 
L 2427.549854 197.05278 
L 2428.581973 218.689898 
L 2429.614093 254.751762 
L 2430.646213 282.678992 
L 2431.678333 269.176507 
L 2432.710453 265.570321 
L 2433.742573 254.751762 
L 2434.774693 250.561734 
L 2435.806813 243.933203 
L 2436.838933 254.751762 
L 2437.871053 293.698574 
L 2438.903173 289.371151 
L 2439.935293 285.874042 
L 2440.967413 280.57238 
L 2441.999532 274.585786 
L 2443.031652 272.012 
L 2444.063772 269.056369 
L 2445.095892 267.373414 
L 2447.160132 261.242897 
L 2448.192252 260.29447 
L 2449.224372 258.816655 
L 2450.256492 257.636711 
L 2451.288612 216.165568 
L 2452.320732 292.2561 
L 2453.352852 281.922212 
L 2454.384972 272.782693 
L 2456.449211 267.562919 
L 2457.481331 265.570321 
L 2459.545571 260.161041 
L 2460.577691 258.834208 
L 2462.641931 255.472999 
L 2464.706171 252.886191 
L 2465.738291 251.866813 
L 2466.770411 216.886805 
L 2467.802531 276.38888 
L 2468.834651 270.004487 
L 2469.866771 261.964134 
L 2471.93101 254.030524 
L 2472.96313 253.061398 
L 2473.99525 251.866813 
L 2476.05949 202.101441 
L 2477.09161 280.355685 
L 2478.12373 269.176507 
L 2479.15585 260.161041 
L 2480.18797 258.248753 
L 2481.22009 254.751762 
L 2484.316449 253.309287 
L 2486.380689 250.614023 
L 2487.412809 249.703101 
L 2489.477049 246.457533 
L 2492.573409 245.375677 
L 2495.669769 242.240134 
L 2496.701889 240.688428 
L 2497.734009 238.884542 
L 2498.766128 237.523134 
L 2499.798248 235.897538 
L 2500.830368 234.917737 
L 2501.862488 233.265815 
L 2502.894608 232.032788 
L 2508.055208 227.705364 
L 2509.087328 227.253494 
L 2510.119448 226.623508 
L 2512.183687 226.984127 
L 2513.215807 226.213966 
L 2514.247927 225.181034 
L 2515.280047 208.592576 
L 2516.312167 196.331543 
L 2517.344287 254.751762 
L 2518.376407 259.079185 
L 2519.408527 251.145575 
L 2520.440647 245.736296 
L 2521.472767 244.373518 
L 2522.504887 242.130109 
L 2523.537007 246.457533 
L 2524.569127 188.758551 
L 2525.601247 262.685372 
L 2526.633366 252.948668 
L 2527.665486 247.539389 
L 2528.697606 245.625946 
L 2529.729726 242.177711 
L 2531.793966 238.308706 
L 2532.826086 237.442067 
L 2533.858206 236.96908 
L 2536.954566 236.249097 
L 2537.986686 236.796706 
L 2539.018806 235.35569 
L 2541.083045 229.249856 
L 2542.115165 228.096398 
L 2543.147285 227.491644 
L 2544.179405 223.826756 
L 2545.211525 223.805673 
L 2546.243645 223.141136 
L 2547.275765 223.174949 
L 2548.307885 224.195669 
L 2549.340005 224.361352 
L 2550.372125 222.277166 
L 2551.404245 223.312998 
L 2552.436365 220.120929 
L 2553.468485 221.708113 
L 2554.500604 223.051936 
L 2555.532724 222.507521 
L 2556.564844 222.837143 
L 2557.596964 221.30729 
L 2558.629084 219.330967 
L 2559.661204 221.052691 
L 2560.693324 220.676416 
L 2561.725444 217.60812 
L 2562.757564 217.296783 
L 2564.821804 215.11636 
L 2565.853924 215.024964 
L 2566.886044 213.148963 
L 2567.918164 214.204586 
L 2568.950283 212.355936 
L 2569.982403 212.483052 
L 2571.014523 211.974521 
L 2572.046643 209.018038 
L 2573.078763 208.927485 
L 2574.110883 211.398682 
L 2575.143003 210.317254 
L 2576.175123 208.602305 
L 2577.207243 207.565386 
L 2578.239363 209.302843 
L 2579.271483 207.790134 
L 2580.303603 208.411824 
L 2581.335723 203.536947 
L 2582.367842 205.018423 
L 2583.399962 204.032259 
L 2584.432082 203.275955 
L 2585.464202 202.154846 
L 2586.496322 201.674063 
L 2587.528442 201.852512 
L 2588.560562 199.865454 
L 2589.592682 199.345919 
L 2590.624802 196.806123 
L 2591.656922 197.116026 
L 2592.689042 196.630896 
L 2593.721162 194.796768 
L 2594.753282 193.585411 
L 2595.785402 194.243654 
L 2596.817521 194.606687 
L 2597.849641 193.573464 
L 2598.881761 193.098872 
L 2599.913881 189.854821 
L 2600.946001 190.229708 
L 2601.978121 189.149995 
L 2603.010241 189.518801 
L 2604.042361 190.026821 
L 2605.074481 187.795519 
L 2606.106601 186.994565 
L 2607.138721 193.547154 
L 2608.170841 193.750737 
L 2609.202961 191.709922 
L 2610.23508 192.396558 
L 2611.2672 190.323289 
L 2612.29932 191.32057 
L 2613.33144 189.577729 
L 2614.36356 186.421452 
L 2615.39568 185.147946 
L 2616.4278 181.960136 
L 2617.45992 182.926777 
L 2618.49204 181.691383 
L 2619.52416 182.104593 
L 2620.55628 181.736728 
L 2621.5884 183.298007 
L 2622.62052 183.93721 
L 2623.65264 185.054208 
L 2624.684759 181.873407 
L 2625.716879 180.834139 
L 2626.748999 182.211189 
L 2627.781119 185.186699 
L 2628.813239 183.784054 
L 2629.845359 177.822051 
L 2630.877479 181.25875 
L 2631.909599 182.211766 
L 2632.941719 185.437204 
L 2633.973839 178.73158 
L 2635.005959 177.708524 
L 2636.038079 188.17656 
L 2637.070199 190.923378 
L 2638.102319 195.786722 
L 2640.166558 187.404633 
L 2641.198678 185.377578 
L 2642.230798 184.428603 
L 2643.262918 180.079486 
L 2644.295038 177.584969 
L 2645.327158 177.816131 
L 2646.359278 175.25812 
L 2647.391398 175.73711 
L 2648.423518 172.077487 
L 2649.455638 170.823855 
L 2650.487758 168.585236 
L 2651.519878 165.123142 
L 2652.551997 168.44359 
L 2653.584117 170.449507 
L 2654.616237 171.772302 
L 2655.648357 170.467132 
L 2656.680477 170.548822 
L 2658.744717 166.382422 
L 2659.776837 166.126515 
L 2660.808957 164.318456 
L 2661.841077 165.25261 
L 2662.873197 163.996682 
L 2663.905317 162.208669 
L 2664.937437 160.777364 
L 2665.969557 160.5941 
L 2667.001676 160.57676 
L 2668.033796 159.605627 
L 2669.065916 164.037337 
L 2670.098036 163.210762 
L 2671.130156 160.554796 
L 2672.162276 161.330349 
L 2673.194396 159.268876 
L 2674.226516 156.50316 
L 2675.258636 157.276046 
L 2676.290756 155.534428 
L 2677.322876 156.107456 
L 2678.354996 152.546148 
L 2679.387116 156.204557 
L 2680.419235 154.267095 
L 2681.451355 153.198461 
L 2682.483475 149.450396 
L 2683.515595 149.905492 
L 2684.547715 149.664661 
L 2685.579835 149.736297 
L 2686.611955 147.203445 
L 2687.644075 146.573638 
L 2689.708315 146.492934 
L 2690.740435 144.857346 
L 2691.772555 142.793463 
L 2692.804675 141.654901 
L 2693.836795 140.874123 
L 2694.868914 140.236706 
L 2695.901034 140.690145 
L 2696.933154 137.648285 
L 2697.965274 137.698093 
L 2698.997394 135.448859 
L 2700.029514 133.809147 
L 2701.061634 134.480205 
L 2702.093754 134.259479 
L 2703.125874 131.802947 
L 2704.157994 135.55546 
L 2705.190114 137.869067 
L 2706.222234 141.471869 
L 2707.254354 136.480169 
L 2709.318593 129.542013 
L 2710.350713 128.61635 
L 2713.447073 122.044104 
L 2714.479193 118.313288 
L 2715.511313 112.796111 
L 2716.543433 104.73441 
L 2717.575553 101.599191 
L 2718.607673 95.780294 
L 2719.639793 88.506571 
L 2720.671913 89.282406 
L 2721.704033 90.309664 
L 2722.736152 87.809625 
L 2723.768272 85.982241 
L 2724.800392 95.718944 
L 2725.832512 95.516853 
L 2727.896752 94.637088 
L 2728.928872 96.584614 
L 2729.960992 99.244681 
L 2730.993112 101.128223 
L 2732.025232 96.927944 
L 2733.057352 93.194613 
L 2735.121592 99.32513 
L 2739.250071 98.243274 
L 2740.282191 99.212996 
L 2741.314311 100.894011 
L 2742.346431 102.931316 
L 2745.442791 102.210079 
L 2746.474911 106.537503 
L 2747.507031 106.302875 
L 2749.571271 105.455647 
L 2750.60339 108.832191 
L 2752.66763 117.107956 
L 2753.69975 119.880392 
L 2755.76399 118.437918 
L 2760.92459 118.437918 
L 2761.95671 121.849463 
L 2762.98883 124.568435 
L 2766.085189 135.386994 
L 2770.213669 134.305138 
L 2773.310029 137.190087 
L 2774.342149 132.862663 
L 2775.374269 139.353799 
L 2777.438509 150.172358 
L 2778.470628 182.628035 
L 2779.502748 222.296084 
L 2780.534868 204.265153 
L 2781.566988 199.36247 
L 2782.599108 197.05278 
L 2783.631228 189.840407 
L 2784.663348 189.324053 
L 2785.695468 188.585145 
L 2786.727588 188.037314 
L 2787.759708 193.446594 
L 2788.791828 213.280619 
L 2790.856068 205.678417 
L 2791.888188 200.658966 
L 2792.920307 201.724018 
L 2793.952427 202.46206 
L 2794.984547 215.083712 
L 2796.016667 192.364738 
L 2797.048787 256.194236 
L 2798.080907 248.981863 
L 2799.113027 254.391143 
L 2800.145147 249.358869 
L 2801.177267 246.096914 
L 2802.209387 241.048253 
L 2803.241507 246.818152 
L 2804.273627 197.05278 
L 2805.305747 236.360211 
L 2806.337867 229.508457 
L 2807.369986 234.917737 
L 2808.402106 228.78722 
L 2809.434226 243.933203 
L 2810.466346 235.999593 
L 2811.498466 219.411135 
L 2813.562706 247.539389 
L 2814.594826 251.866813 
L 2815.626946 229.508457 
L 2816.659066 236.72083 
L 2817.691186 217.968661 
L 2818.723306 211.477525 
L 2820.787545 149.811739 
L 2821.819665 258.357948 
L 2822.851785 262.685372 
L 2823.883905 247.539389 
L 2824.916025 246.096914 
L 2825.948145 241.048253 
L 2826.980265 251.866813 
L 2828.012385 246.457533 
L 2828.012385 246.457533 
" clip-path="url(#p8f943b78ff)" style="fill: none; stroke: #1f77b4; stroke-width: 1.5; stroke-linecap: square"/>
   </g>
   <g id="patch_12">
    <path d="M 1957.780469 404.12 
L 1957.780469 21.72 
" style="fill: none; stroke: #000000; stroke-width: 0.8; stroke-linejoin: miter; stroke-linecap: square"/>
   </g>
   <g id="patch_13">
    <path d="M 2869.452 404.12 
L 2869.452 21.72 
" style="fill: none; stroke: #000000; stroke-width: 0.8; stroke-linejoin: miter; stroke-linecap: square"/>
   </g>
   <g id="patch_14">
    <path d="M 1957.780469 404.12 
L 2869.452 404.12 
" style="fill: none; stroke: #000000; stroke-width: 0.8; stroke-linejoin: miter; stroke-linecap: square"/>
   </g>
   <g id="patch_15">
    <path d="M 1957.780469 21.72 
L 2869.452 21.72 
" style="fill: none; stroke: #000000; stroke-width: 0.8; stroke-linejoin: miter; stroke-linecap: square"/>
   </g>
  </g>
  <g id="axes_4">
   <g id="CBBG">
    <path d="M 842.080801 404.12 
L 861.200801 404.12 
L 861.200801 21.72 
L 842.080801 21.72 
z
" style="fill: #ffffff"/>
   </g>
<g transform="scale(0.72)"><defs><linearGradient id="cbg" x1="0" y1="1" x2="0" y2="0"><stop offset="0.0000" stop-color="#440154"/><stop offset="0.0312" stop-color="#470d60"/><stop offset="0.0625" stop-color="#48186a"/><stop offset="0.0938" stop-color="#482374"/><stop offset="0.1250" stop-color="#472d7b"/><stop offset="0.1562" stop-color="#453781"/><stop offset="0.1875" stop-color="#424086"/><stop offset="0.2188" stop-color="#3e4989"/><stop offset="0.2500" stop-color="#3b528b"/><stop offset="0.2812" stop-color="#375b8d"/><stop offset="0.3125" stop-color="#33638d"/><stop offset="0.3438" stop-color="#2f6b8e"/><stop offset="0.3750" stop-color="#2c728e"/><stop offset="0.4062" stop-color="#297a8e"/><stop offset="0.4375" stop-color="#26828e"/><stop offset="0.4688" stop-color="#23898e"/><stop offset="0.5000" stop-color="#21918c"/><stop offset="0.5312" stop-color="#1f988b"/><stop offset="0.5625" stop-color="#1fa088"/><stop offset="0.5938" stop-color="#22a785"/><stop offset="0.6250" stop-color="#28ae80"/><stop offset="0.6562" stop-color="#32b67a"/><stop offset="0.6875" stop-color="#3fbc73"/><stop offset="0.7188" stop-color="#4ec36b"/><stop offset="0.7500" stop-color="#5ec962"/><stop offset="0.7812" stop-color="#70cf57"/><stop offset="0.8125" stop-color="#84d44b"/><stop offset="0.8438" stop-color="#98d83e"/><stop offset="0.8750" stop-color="#addc30"/><stop offset="0.9062" stop-color="#c2df23"/><stop offset="0.9375" stop-color="#d8e219"/><stop offset="0.9688" stop-color="#ece51b"/><stop offset="1.0000" stop-color="#fde725"/></linearGradient></defs><rect x="1169.56" y="30.17" width="26.56" height="531.11" fill="url(#cbg)"/></g>

   <g id="matplotlib.axis_7"/>
   <g id="matplotlib.axis_8">
    <g id="ytick_21">
     <g id="line2d_48">
      <defs>
       <path id="m7389b9bb77" d="M 0 0 
L 2.5 0 
" style="stroke: #000000; stroke-width: 0.75"/>
      </defs>
      <g>
       <use href="#m7389b9bb77" x="861.200801" y="368.904213" style="stroke: #000000; stroke-width: 0.75"/>
      </g>
     </g>
     <g id="text_48">
      <!-- $\mathdefault{2\times10^{11}}$ -->
      <g transform="translate(866.600801 372.703431)">
       <text>
        <tspan x="0" y="-0.064063" style="font-size: 10px; font-family: 'DejaVu Sans', 'Liberation Sans', sans-serif">2</tspan>
        <tspan x="8.310547" y="-0.064063" style="font-size: 10px; font-family: 'DejaVu Sans', 'Liberation Sans', sans-serif">×</tspan>
        <tspan x="18.637695" y="-0.064063" style="font-size: 10px; font-family: 'DejaVu Sans', 'Liberation Sans', sans-serif">1</tspan>
        <tspan x="25" y="-0.064063" style="font-size: 10px; font-family: 'DejaVu Sans', 'Liberation Sans', sans-serif">0</tspan>
        <tspan x="31.458008" y="-3.892188" style="font-size: 7px; font-family: 'DejaVu Sans', 'Liberation Sans', sans-serif">1</tspan>
        <tspan x="35.911621" y="-3.892188" style="font-size: 7px; font-family: 'DejaVu Sans', 'Liberation Sans', sans-serif">1</tspan>
       </text>
      </g>
     </g>
    </g>
    <g id="ytick_22">
     <g id="line2d_49">
      <g>
       <use href="#m7389b9bb77" x="861.200801" y="206.162593" style="stroke: #000000; stroke-width: 0.75"/>
      </g>
     </g>
     <g id="text_49">
      <!-- $\mathdefault{3\times10^{11}}$ -->
      <g transform="translate(866.600801 209.961811)">
       <text>
        <tspan x="0" y="-0.064063" style="font-size: 10px; font-family: 'DejaVu Sans', 'Liberation Sans', sans-serif">3</tspan>
        <tspan x="8.310547" y="-0.064063" style="font-size: 10px; font-family: 'DejaVu Sans', 'Liberation Sans', sans-serif">×</tspan>
        <tspan x="18.637695" y="-0.064063" style="font-size: 10px; font-family: 'DejaVu Sans', 'Liberation Sans', sans-serif">1</tspan>
        <tspan x="25" y="-0.064063" style="font-size: 10px; font-family: 'DejaVu Sans', 'Liberation Sans', sans-serif">0</tspan>
        <tspan x="31.458008" y="-3.892188" style="font-size: 7px; font-family: 'DejaVu Sans', 'Liberation Sans', sans-serif">1</tspan>
        <tspan x="35.911621" y="-3.892188" style="font-size: 7px; font-family: 'DejaVu Sans', 'Liberation Sans', sans-serif">1</tspan>
       </text>
      </g>
     </g>
    </g>
    <g id="ytick_23">
     <g id="line2d_50">
      <g>
       <use href="#m7389b9bb77" x="861.200801" y="90.695576" style="stroke: #000000; stroke-width: 0.75"/>
      </g>
     </g>
     <g id="text_50">
      <!-- $\mathdefault{4\times10^{11}}$ -->
      <g transform="translate(866.600801 94.494794)">
       <text>
        <tspan x="0" y="-0.064063" style="font-size: 10px; font-family: 'DejaVu Sans', 'Liberation Sans', sans-serif">4</tspan>
        <tspan x="8.310547" y="-0.064063" style="font-size: 10px; font-family: 'DejaVu Sans', 'Liberation Sans', sans-serif">×</tspan>
        <tspan x="18.637695" y="-0.064063" style="font-size: 10px; font-family: 'DejaVu Sans', 'Liberation Sans', sans-serif">1</tspan>
        <tspan x="25" y="-0.064063" style="font-size: 10px; font-family: 'DejaVu Sans', 'Liberation Sans', sans-serif">0</tspan>
        <tspan x="31.458008" y="-3.892188" style="font-size: 7px; font-family: 'DejaVu Sans', 'Liberation Sans', sans-serif">1</tspan>
        <tspan x="35.911621" y="-3.892188" style="font-size: 7px; font-family: 'DejaVu Sans', 'Liberation Sans', sans-serif">1</tspan>
       </text>
      </g>
     </g>
    </g>
   </g>
   <g id="LineCollection_1"/>
   <g id="patch_16">
    <path d="M 842.080801 404.12 
L 851.640801 404.12 
L 861.200801 404.12 
L 861.200801 21.72 
L 851.640801 21.72 
L 842.080801 21.72 
L 842.080801 404.12 
z
" style="fill: none; stroke: #000000; stroke-width: 0.8; stroke-linejoin: miter; stroke-linecap: square"/>
   </g>
  </g>
 </g>
 <defs>
  <clipPath id="pf44bcd6992">
   <rect x="1012.470235" y="21.72" width="911.671531" height="382.4"/>
  </clipPath>
  <clipPath id="p8f943b78ff">
   <rect x="1957.780469" y="21.72" width="911.671531" height="382.4"/>
  </clipPath>
 </defs>
</svg>

</body></html>
